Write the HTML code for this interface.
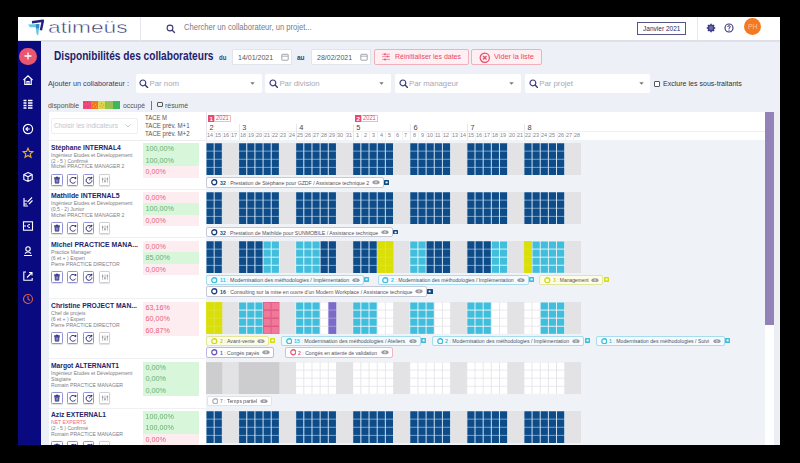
<!DOCTYPE html>
<html><head><meta charset="utf-8"><style>
html,body{margin:0;padding:0;width:800px;height:463px;overflow:hidden;background:#000;font-family:"Liberation Sans", sans-serif;}
</style></head><body>
<div style="position:absolute;left:0;top:0;width:800px;height:463px;filter:blur(0.3px);">
<div style="position:absolute;left:18.00px;top:17.00px;width:762.00px;height:428.00px;background:#eef0f7;"></div>
<div style="position:absolute;left:18.00px;top:17.00px;width:762.00px;height:23.50px;background:#fff;border-bottom:1px solid #dcdfe8;box-sizing:border-box;box-shadow:0 0.8px 1px rgba(0,0,0,0.06);"></div>
<div style="position:absolute;left:139.50px;top:17.00px;width:0.80px;height:23.50px;background:#e6e8ef;"></div>
<div style="position:absolute;left:696.50px;top:17.00px;width:0.80px;height:23.50px;background:#e6e8ef;"></div>
<svg style="position:absolute;left:24.00px;top:17.00px;" width="24" height="21" viewBox="0 0 24 21"><path d="M4 7.6 L15.4 6.9 L15.2 10.6 L14.1 18.8 L12.5 16.8 L11.7 10.2 L6 10.2 Z" fill="#62c8e6"/><path d="M8 5.2 L18.9 3.7 L16.9 13.3" fill="none" stroke="#23237e" stroke-width="2.4" stroke-linejoin="round"/><path d="M11.8 7.2 L15.3 7 L15.1 11.5 L12 11.4 Z" fill="#3b86c4"/></svg>
<div id="t1" style="position:absolute;left:47.50px;top:18.61px;font-size:17px;line-height:17px;color:#3c3c72;font-weight:400;white-space:nowrap;transform:scaleX(1.3354);transform-origin:0 0;-webkit-text-stroke:0.45px #fff;">atimeüs</div>
<svg style="position:absolute;left:165.50px;top:23.50px;" width="10" height="10" viewBox="0 0 10 10"><circle cx="4" cy="4" r="2.9" fill="none" stroke="#3a3a78" stroke-width="1.1"/><path d="M6.2 6.2 L8.5 8.5" stroke="#3a3a78" stroke-width="1.3" stroke-linecap="round"/></svg>
<div id="t2" style="position:absolute;left:184.00px;top:23.18px;font-size:9px;line-height:9px;color:#7b7b85;font-weight:400;white-space:nowrap;transform:scaleX(0.8445);transform-origin:0 0;">Chercher un collaborateur, un projet...</div>
<div style="position:absolute;left:637.00px;top:21.60px;width:49.40px;height:13.00px;border:0.8px solid #555588;box-sizing:border-box;background:#fff;"></div>
<div id="t3" style="position:absolute;left:642.50px;top:24.70px;font-size:7.8px;line-height:7.8px;color:#2e2e66;font-weight:400;white-space:nowrap;transform:scaleX(0.8397);transform-origin:0 0;">Janvier 2021</div>
<svg style="position:absolute;left:705.00px;top:22.00px;" width="12" height="12" viewBox="0 0 12 12"><rect x="5.3" y="1.7" width="1.4" height="1.8" fill="#3a3a80" transform="rotate(0 6 6)"/><rect x="5.3" y="1.7" width="1.4" height="1.8" fill="#3a3a80" transform="rotate(45 6 6)"/><rect x="5.3" y="1.7" width="1.4" height="1.8" fill="#3a3a80" transform="rotate(90 6 6)"/><rect x="5.3" y="1.7" width="1.4" height="1.8" fill="#3a3a80" transform="rotate(135 6 6)"/><rect x="5.3" y="1.7" width="1.4" height="1.8" fill="#3a3a80" transform="rotate(180 6 6)"/><rect x="5.3" y="1.7" width="1.4" height="1.8" fill="#3a3a80" transform="rotate(225 6 6)"/><rect x="5.3" y="1.7" width="1.4" height="1.8" fill="#3a3a80" transform="rotate(270 6 6)"/><rect x="5.3" y="1.7" width="1.4" height="1.8" fill="#3a3a80" transform="rotate(315 6 6)"/><circle cx="6" cy="6" r="2.8" fill="#6a6aa8" stroke="#3a3a80" stroke-width="1.3"/></svg>
<svg style="position:absolute;left:723.20px;top:22.00px;" width="12" height="12" viewBox="0 0 12 12"><circle cx="6" cy="6" r="4.0" fill="none" stroke="#34347a" stroke-width="1.1"/><path d="M4.7 5 Q4.7 3.7 6 3.7 Q7.3 3.7 7.3 4.9 Q7.3 5.7 6 6.1 L6 6.9" fill="none" stroke="#34347a" stroke-width="0.95"/><circle cx="6" cy="8.2" r="0.6" fill="#34347a"/></svg>
<div style="position:absolute;left:743.50px;top:17.90px;width:17.40px;height:17.40px;background:#f47a20;border-radius:50%;"></div>
<div id="t4" style="position:absolute;left:747.60px;top:23.61px;font-size:6.6px;line-height:6.6px;color:#fbc59a;font-weight:400;white-space:nowrap;transform:scaleX(1.0467);transform-origin:0 0;">PH</div>
<div style="position:absolute;left:18.00px;top:40.50px;width:22.50px;height:404.50px;background:#0a0a80;"></div>
<div style="position:absolute;left:19.40px;top:47.80px;width:17.20px;height:17.20px;background:#ea5670;border-radius:50%;"></div>
<svg style="position:absolute;left:23.00px;top:51.40px;" width="10" height="10" viewBox="0 0 10 10"><path d="M5 1.5 V8.5 M1.5 5 H8.5" stroke="#fff" stroke-width="1.3"/></svg>
<svg style="position:absolute;left:21.80px;top:73.70px;" width="12" height="12" viewBox="0 0 12 12"><path d="M1.5 6 L6 1.8 L10.5 6 M2.8 5 V10.5 H9.2 V5 M5 10.5 V7.5 H7 V10.5" fill="none" stroke="#fff" stroke-width="1.2"/></svg>
<svg style="position:absolute;left:21.80px;top:98.00px;" width="12" height="12" viewBox="0 0 12 12"><path d="M1.5 2.5 H4.5 M6 2.5 H10.5 M1.5 5 H4.5 M6 5 H10.5 M1.5 7.5 H4.5 M6 7.5 H10.5 M1.5 10 H4.5 M6 10 H10.5" stroke="#fff" stroke-width="1.3"/></svg>
<svg style="position:absolute;left:21.80px;top:122.80px;" width="12" height="12" viewBox="0 0 12 12"><circle cx="6" cy="6" r="4.6" fill="none" stroke="#fff" stroke-width="1.2"/><path d="M7.8 6 H4.2 M5.8 4.2 L4 6 L5.8 7.8" fill="none" stroke="#fff" stroke-width="1.2"/></svg>
<svg style="position:absolute;left:21.80px;top:146.60px;" width="12" height="12" viewBox="0 0 12 12"><path d="M6 1.2 L7.4 4.4 L10.8 4.7 L8.2 6.9 L9 10.3 L6 8.5 L3 10.3 L3.8 6.9 L1.2 4.7 L4.6 4.4 Z" fill="none" stroke="#e8b030" stroke-width="1.1"/></svg>
<svg style="position:absolute;left:21.80px;top:171.20px;" width="12" height="12" viewBox="0 0 12 12"><path d="M6 1.5 L10.2 3.6 V8.4 L6 10.5 L1.8 8.4 V3.6 Z M1.8 3.6 L6 5.8 L10.2 3.6 M6 5.8 V10.5" fill="none" stroke="#fff" stroke-width="1.1"/></svg>
<svg style="position:absolute;left:21.80px;top:195.70px;" width="12" height="12" viewBox="0 0 12 12"><path d="M2 2 V10 H6 M2 5 H5 M2 8 H5 M5.5 6 L10 1.5 M7 8 L10.5 4.5" fill="none" stroke="#fff" stroke-width="1.1"/></svg>
<svg style="position:absolute;left:21.80px;top:220.30px;" width="12" height="12" viewBox="0 0 12 12"><rect x="1.5" y="1.8" width="9" height="8.4" fill="none" stroke="#fff" stroke-width="1.1"/><path d="M8 4.5 Q5.5 4.5 5.5 6 Q5.5 7.5 8 7.5 M1.5 6 H4" fill="none" stroke="#fff" stroke-width="1"/></svg>
<svg style="position:absolute;left:21.80px;top:244.90px;" width="12" height="12" viewBox="0 0 12 12"><circle cx="6" cy="4" r="2.2" fill="none" stroke="#fff" stroke-width="1.1"/><path d="M2 10.5 H10 M3 8.5 Q6 5.5 9 8.5" fill="none" stroke="#fff" stroke-width="1.1"/></svg>
<svg style="position:absolute;left:21.80px;top:269.50px;" width="12" height="12" viewBox="0 0 12 12"><path d="M4 2 H1.8 V10.2 H10.2 V8 M5 7.5 L9.5 3 M7 2.5 H10 V5.5" fill="none" stroke="#fff" stroke-width="1.1"/></svg>
<svg style="position:absolute;left:21.80px;top:292.80px;" width="12" height="12" viewBox="0 0 12 12"><circle cx="6" cy="6" r="4.5" fill="none" stroke="#d8604a" stroke-width="1.1"/><path d="M6 3 V6 L8 7.5" fill="none" stroke="#d8604a" stroke-width="1.1"/></svg>
<div id="t5" style="position:absolute;left:53.50px;top:49.54px;font-size:12px;line-height:12px;color:#22226c;font-weight:700;white-space:nowrap;transform:scaleX(0.8452);transform-origin:0 0;">Disponibilités des collaborateurs</div>
<div id="t6" style="position:absolute;left:218.60px;top:53.67px;font-size:7px;line-height:7px;color:#3e3e7c;font-weight:700;white-space:nowrap;transform:scaleX(0.8642);transform-origin:0 0;">du</div>
<div style="position:absolute;left:232.00px;top:49.00px;width:60.00px;height:16.00px;background:#fff;border:0.6px solid #e2e4ec;box-sizing:border-box;border-radius:1px;"></div>
<div id="t7" style="position:absolute;left:237.60px;top:54.01px;font-size:7.9px;line-height:7.9px;color:#585858;font-weight:400;white-space:nowrap;transform:scaleX(0.8911);transform-origin:0 0;">14/01/2021</div>
<svg style="position:absolute;left:280.50px;top:53.00px;" width="8" height="8" viewBox="0 0 8 8"><rect x="0.8" y="1.3" width="6.4" height="5.9" fill="none" stroke="#9a9aa6" stroke-width="0.9" rx="0.5"/><path d="M0.8 3.2 H7.2" stroke="#9a9aa6" stroke-width="0.8"/></svg>
<div id="t8" style="position:absolute;left:297.40px;top:53.67px;font-size:7px;line-height:7px;color:#3e3e7c;font-weight:700;white-space:nowrap;transform:scaleX(0.9300);transform-origin:0 0;">au</div>
<div style="position:absolute;left:311.00px;top:49.00px;width:60.00px;height:16.00px;background:#fff;border:0.6px solid #e2e4ec;box-sizing:border-box;border-radius:1px;"></div>
<div id="t9" style="position:absolute;left:316.60px;top:54.01px;font-size:7.9px;line-height:7.9px;color:#585858;font-weight:400;white-space:nowrap;transform:scaleX(0.8911);transform-origin:0 0;">28/02/2021</div>
<svg style="position:absolute;left:359.50px;top:53.00px;" width="8" height="8" viewBox="0 0 8 8"><rect x="0.8" y="1.3" width="6.4" height="5.9" fill="none" stroke="#9a9aa6" stroke-width="0.9" rx="0.5"/><path d="M0.8 3.2 H7.2" stroke="#9a9aa6" stroke-width="0.8"/></svg>
<div style="position:absolute;left:373.80px;top:48.80px;width:95.50px;height:16.20px;background:#fdeff2;border:0.8px solid #f2b0bd;box-sizing:border-box;border-radius:2px;"></div>
<svg style="position:absolute;left:380.50px;top:51.80px;" width="10" height="9" viewBox="0 0 10 9"><path d="M1 2.2 H9 M1 4.6 H9 M1 7.4 H9" stroke="#f07890" stroke-width="0.8"/><circle cx="4" cy="2.2" r="1" fill="#ee5a7a"/><circle cx="6.5" cy="4.6" r="1" fill="#ee5a7a"/><circle cx="4" cy="7.4" r="1" fill="#ee5a7a"/></svg>
<div id="t10" style="position:absolute;left:395.00px;top:53.40px;font-size:7.8px;line-height:7.8px;color:#e84a66;font-weight:400;white-space:nowrap;transform:scaleX(0.8959);transform-origin:0 0;">Réinitialiser les dates</div>
<div style="position:absolute;left:471.00px;top:48.80px;width:70.80px;height:16.20px;background:#fdeff2;border:0.8px solid #f2b0bd;box-sizing:border-box;border-radius:2px;"></div>
<svg style="position:absolute;left:478.50px;top:51.80px;" width="11.5" height="11.5" viewBox="0 0 11.5 11.5"><circle cx="5.75" cy="5.75" r="4.6" fill="none" stroke="#e84a66" stroke-width="1.2"/><path d="M4 4 L7.5 7.5 M7.5 4 L4 7.5" stroke="#e84a66" stroke-width="1.2"/></svg>
<div id="t11" style="position:absolute;left:494.00px;top:53.40px;font-size:7.8px;line-height:7.8px;color:#e84a66;font-weight:400;white-space:nowrap;transform:scaleX(0.9403);transform-origin:0 0;">Vider la liste</div>
<div id="t12" style="position:absolute;left:48.40px;top:79.97px;font-size:7.6px;line-height:7.6px;color:#3a3a70;font-weight:400;white-space:nowrap;transform:scaleX(0.9545);transform-origin:0 0;">Ajouter un collaborateur :</div>
<div style="position:absolute;left:135.50px;top:73.50px;width:126.10px;height:19.00px;background:#fff;border-radius:2px;"></div>
<svg style="position:absolute;left:139.00px;top:78.80px;" width="9.5" height="9.5" viewBox="0 0 9.5 9.5"><circle cx="3.9" cy="3.9" r="2.9" fill="none" stroke="#3a3a78" stroke-width="1.2"/><path d="M6.1 6.1 L8.6 8.6" stroke="#3a3a78" stroke-width="1.4" stroke-linecap="round"/></svg>
<div id="t13" style="position:absolute;left:149.50px;top:80.00px;font-size:7.8px;line-height:7.8px;color:#a8a8b4;font-weight:400;white-space:nowrap;">Par nom</div>
<svg style="position:absolute;left:249.60px;top:81.50px;" width="5" height="3" viewBox="0 0 5 3"><path d="M0.3 0.3 H4.7 L2.5 2.8 Z" fill="#777"/></svg>
<div style="position:absolute;left:265.40px;top:73.50px;width:125.20px;height:19.00px;background:#fff;border-radius:2px;"></div>
<svg style="position:absolute;left:268.90px;top:78.80px;" width="9.5" height="9.5" viewBox="0 0 9.5 9.5"><circle cx="3.9" cy="3.9" r="2.9" fill="none" stroke="#3a3a78" stroke-width="1.2"/><path d="M6.1 6.1 L8.6 8.6" stroke="#3a3a78" stroke-width="1.4" stroke-linecap="round"/></svg>
<div id="t14" style="position:absolute;left:279.40px;top:80.00px;font-size:7.8px;line-height:7.8px;color:#a8a8b4;font-weight:400;white-space:nowrap;">Par division</div>
<svg style="position:absolute;left:378.60px;top:81.50px;" width="5" height="3" viewBox="0 0 5 3"><path d="M0.3 0.3 H4.7 L2.5 2.8 Z" fill="#777"/></svg>
<div style="position:absolute;left:395.00px;top:73.50px;width:125.50px;height:19.00px;background:#fff;border-radius:2px;"></div>
<svg style="position:absolute;left:398.50px;top:78.80px;" width="9.5" height="9.5" viewBox="0 0 9.5 9.5"><circle cx="3.9" cy="3.9" r="2.9" fill="none" stroke="#3a3a78" stroke-width="1.2"/><path d="M6.1 6.1 L8.6 8.6" stroke="#3a3a78" stroke-width="1.4" stroke-linecap="round"/></svg>
<div id="t15" style="position:absolute;left:409.00px;top:80.00px;font-size:7.8px;line-height:7.8px;color:#a8a8b4;font-weight:400;white-space:nowrap;">Par manageur</div>
<svg style="position:absolute;left:508.50px;top:81.50px;" width="5" height="3" viewBox="0 0 5 3"><path d="M0.3 0.3 H4.7 L2.5 2.8 Z" fill="#777"/></svg>
<div style="position:absolute;left:525.20px;top:73.50px;width:125.30px;height:19.00px;background:#fff;border-radius:2px;"></div>
<svg style="position:absolute;left:528.70px;top:78.80px;" width="9.5" height="9.5" viewBox="0 0 9.5 9.5"><circle cx="3.9" cy="3.9" r="2.9" fill="none" stroke="#3a3a78" stroke-width="1.2"/><path d="M6.1 6.1 L8.6 8.6" stroke="#3a3a78" stroke-width="1.4" stroke-linecap="round"/></svg>
<div id="t16" style="position:absolute;left:539.20px;top:80.00px;font-size:7.8px;line-height:7.8px;color:#a8a8b4;font-weight:400;white-space:nowrap;">Par projet</div>
<svg style="position:absolute;left:638.50px;top:81.50px;" width="5" height="3" viewBox="0 0 5 3"><path d="M0.3 0.3 H4.7 L2.5 2.8 Z" fill="#777"/></svg>
<div style="position:absolute;left:654.00px;top:80.50px;width:6.00px;height:6.00px;border:0.8px solid #555;box-sizing:border-box;border-radius:1px;background:#fff;"></div>
<div id="t17" style="position:absolute;left:662.70px;top:80.34px;font-size:7.4px;line-height:7.4px;color:#333;font-weight:400;white-space:nowrap;transform:scaleX(0.9544);transform-origin:0 0;">Exclure les sous-traitants</div>
<div id="t18" style="position:absolute;left:48.40px;top:101.51px;font-size:7.2px;line-height:7.2px;color:#555;font-weight:400;white-space:nowrap;transform:scaleX(0.9637);transform-origin:0 0;">disponible</div>
<div style="position:absolute;left:83.10px;top:101.40px;width:7.42px;height:7.30px;background:#f04878;"></div>
<div style="position:absolute;left:90.52px;top:101.40px;width:7.42px;height:7.30px;background:#f07820;"></div>
<div style="position:absolute;left:97.94px;top:101.40px;width:7.42px;height:7.30px;background:#d8d84e;"></div>
<div style="position:absolute;left:105.36px;top:101.40px;width:7.42px;height:7.30px;background:#96c052;"></div>
<div style="position:absolute;left:112.78px;top:101.40px;width:7.42px;height:7.30px;background:#3fb65e;"></div>
<svg style="position:absolute;left:83.10px;top:101.40px;" width="37.1" height="7.3" viewBox="0 0 37.1 7.3"><g fill="#b83060"><circle cx="1.5" cy="1.5" r="0.5"/><circle cx="4.5" cy="1.5" r="0.5"/><circle cx="2" cy="5.8" r="0.5"/><circle cx="5" cy="5.8" r="0.5"/></g><g fill="#f8b080"><circle cx="9.5" cy="2" r="0.55"/><circle cx="12.5" cy="3.5" r="0.55"/><circle cx="10.5" cy="5.5" r="0.55"/><circle cx="13.5" cy="6" r="0.55"/></g><g fill="#f07840"><circle cx="18.5" cy="2.6" r="0.6"/><circle cx="20.5" cy="4" r="0.6"/><circle cx="17.3" cy="5" r="0.6"/><circle cx="19.3" cy="6" r="0.6"/></g></svg>
<div id="t19" style="position:absolute;left:123.00px;top:101.51px;font-size:7.2px;line-height:7.2px;color:#555;font-weight:400;white-space:nowrap;transform:scaleX(0.9488);transform-origin:0 0;">occupé</div>
<div style="position:absolute;left:151.00px;top:100.50px;width:0.80px;height:9.50px;background:#777;"></div>
<div style="position:absolute;left:157.00px;top:101.80px;width:5.60px;height:5.60px;border:0.8px solid #555;box-sizing:border-box;border-radius:1px;"></div>
<div id="t20" style="position:absolute;left:165.00px;top:101.51px;font-size:7.2px;line-height:7.2px;color:#555;font-weight:400;white-space:nowrap;transform:scaleX(0.9596);transform-origin:0 0;">résumé</div>
<div style="position:absolute;left:48.50px;top:112.00px;width:716.50px;height:333.00px;background:#fff;"></div>
<div style="position:absolute;left:48.50px;top:139.60px;width:716.50px;height:0.70px;background:#ececf0;"></div>
<div style="position:absolute;left:51.00px;top:118.00px;width:86.50px;height:16.00px;border:0.7px solid #efeff2;box-sizing:border-box;border-radius:2px;background:#fff;"></div>
<div id="t21" style="position:absolute;left:53.80px;top:122.17px;font-size:7.6px;line-height:7.6px;color:#c4c4cc;font-weight:400;white-space:nowrap;transform:scaleX(0.8616);transform-origin:0 0;">Choisir les indicateurs</div>
<svg style="position:absolute;left:125.00px;top:124.00px;" width="6" height="4" viewBox="0 0 6 4"><path d="M0.5 0.5 L3 3 L5.5 0.5" fill="none" stroke="#bbb" stroke-width="0.8"/></svg>
<div id="t22" style="position:absolute;left:145.40px;top:114.27px;font-size:7px;line-height:7px;color:#555;font-weight:400;white-space:nowrap;transform:scaleX(0.8482);transform-origin:0 0;">TACE M</div>
<div id="t23" style="position:absolute;left:145.40px;top:122.17px;font-size:7px;line-height:7px;color:#555;font-weight:400;white-space:nowrap;transform:scaleX(0.8761);transform-origin:0 0;">TACE prév. M+1</div>
<div id="t24" style="position:absolute;left:145.40px;top:129.97px;font-size:7px;line-height:7px;color:#555;font-weight:400;white-space:nowrap;transform:scaleX(0.8761);transform-origin:0 0;">TACE prév. M+2</div>
<div style="position:absolute;left:205.90px;top:112.00px;width:0.70px;height:333.00px;background:#e4e4ea;"></div>
<div style="position:absolute;left:206.30px;top:130.80px;width:558.70px;height:0.70px;background:#f0f0f4;"></div>
<div style="position:absolute;left:207.90px;top:114.70px;width:6.40px;height:7.80px;background:#e9496a;"></div>
<div id="t25" style="position:absolute;left:209.50px;top:115.65px;font-size:6.2px;line-height:6.2px;color:#fff;font-weight:700;white-space:nowrap;">1</div>
<div style="position:absolute;left:214.30px;top:114.70px;width:17.20px;height:7.80px;border:0.7px solid #f6b8c4;box-sizing:border-box;background:#fff;"></div>
<div id="t26" style="position:absolute;left:216.40px;top:115.41px;font-size:6.6px;line-height:6.6px;color:#e9496a;font-weight:400;white-space:nowrap;transform:scaleX(0.8724);transform-origin:0 0;">2021</div>
<div style="position:absolute;left:354.84px;top:114.70px;width:6.40px;height:7.80px;background:#e9496a;"></div>
<div id="t27" style="position:absolute;left:356.44px;top:115.65px;font-size:6.2px;line-height:6.2px;color:#fff;font-weight:700;white-space:nowrap;">2</div>
<div style="position:absolute;left:361.24px;top:114.70px;width:17.20px;height:7.80px;border:0.7px solid #f6b8c4;box-sizing:border-box;background:#fff;"></div>
<div id="t28" style="position:absolute;left:363.34px;top:115.41px;font-size:6.6px;line-height:6.6px;color:#e9496a;font-weight:400;white-space:nowrap;transform:scaleX(0.8724);transform-origin:0 0;">2021</div>
<div id="t29" style="position:absolute;left:209.60px;top:124.14px;font-size:7.4px;line-height:7.4px;color:#444;font-weight:400;white-space:nowrap;">2</div>
<div style="position:absolute;left:238.56px;top:124.40px;width:0.70px;height:15.50px;background:#e6e6ec;"></div>
<div id="t30" style="position:absolute;left:242.21px;top:124.14px;font-size:7.4px;line-height:7.4px;color:#444;font-weight:400;white-space:nowrap;">3</div>
<div style="position:absolute;left:295.62px;top:124.40px;width:0.70px;height:15.50px;background:#e6e6ec;"></div>
<div id="t31" style="position:absolute;left:299.27px;top:124.14px;font-size:7.4px;line-height:7.4px;color:#444;font-weight:400;white-space:nowrap;">4</div>
<div style="position:absolute;left:352.69px;top:124.40px;width:0.70px;height:15.50px;background:#e6e6ec;"></div>
<div id="t32" style="position:absolute;left:356.34px;top:124.14px;font-size:7.4px;line-height:7.4px;color:#444;font-weight:400;white-space:nowrap;">5</div>
<div style="position:absolute;left:409.75px;top:124.40px;width:0.70px;height:15.50px;background:#e6e6ec;"></div>
<div id="t33" style="position:absolute;left:413.40px;top:124.14px;font-size:7.4px;line-height:7.4px;color:#444;font-weight:400;white-space:nowrap;">6</div>
<div style="position:absolute;left:466.81px;top:124.40px;width:0.70px;height:15.50px;background:#e6e6ec;"></div>
<div id="t34" style="position:absolute;left:470.46px;top:124.14px;font-size:7.4px;line-height:7.4px;color:#444;font-weight:400;white-space:nowrap;">7</div>
<div style="position:absolute;left:523.88px;top:124.40px;width:0.70px;height:15.50px;background:#e6e6ec;"></div>
<div id="t35" style="position:absolute;left:527.53px;top:124.14px;font-size:7.4px;line-height:7.4px;color:#444;font-weight:400;white-space:nowrap;">8</div>
<div id="t36" style="position:absolute;left:207.00px;top:132.71px;font-size:5.9px;line-height:5.9px;color:#85858d;font-weight:400;white-space:nowrap;transform:scaleX(0.92);transform-origin:0 0;">14</div>
<div id="t37" style="position:absolute;left:215.15px;top:132.71px;font-size:5.9px;line-height:5.9px;color:#85858d;font-weight:400;white-space:nowrap;transform:scaleX(0.92);transform-origin:0 0;">15</div>
<div style="position:absolute;left:214.15px;top:131.50px;width:0.60px;height:8.50px;background:#f3f3f6;"></div>
<div id="t38" style="position:absolute;left:223.30px;top:132.71px;font-size:5.9px;line-height:5.9px;color:#85858d;font-weight:400;white-space:nowrap;transform:scaleX(0.92);transform-origin:0 0;">16</div>
<div style="position:absolute;left:222.30px;top:131.50px;width:0.60px;height:8.50px;background:#f3f3f6;"></div>
<div id="t39" style="position:absolute;left:231.46px;top:132.71px;font-size:5.9px;line-height:5.9px;color:#85858d;font-weight:400;white-space:nowrap;transform:scaleX(0.92);transform-origin:0 0;">17</div>
<div style="position:absolute;left:230.46px;top:131.50px;width:0.60px;height:8.50px;background:#f3f3f6;"></div>
<div id="t40" style="position:absolute;left:239.61px;top:132.71px;font-size:5.9px;line-height:5.9px;color:#85858d;font-weight:400;white-space:nowrap;transform:scaleX(0.92);transform-origin:0 0;">18</div>
<div id="t41" style="position:absolute;left:247.76px;top:132.71px;font-size:5.9px;line-height:5.9px;color:#85858d;font-weight:400;white-space:nowrap;transform:scaleX(0.92);transform-origin:0 0;">19</div>
<div style="position:absolute;left:246.76px;top:131.50px;width:0.60px;height:8.50px;background:#f3f3f6;"></div>
<div id="t42" style="position:absolute;left:255.91px;top:132.71px;font-size:5.9px;line-height:5.9px;color:#85858d;font-weight:400;white-space:nowrap;transform:scaleX(0.92);transform-origin:0 0;">20</div>
<div style="position:absolute;left:254.91px;top:131.50px;width:0.60px;height:8.50px;background:#f3f3f6;"></div>
<div id="t43" style="position:absolute;left:264.06px;top:132.71px;font-size:5.9px;line-height:5.9px;color:#85858d;font-weight:400;white-space:nowrap;transform:scaleX(0.92);transform-origin:0 0;">21</div>
<div style="position:absolute;left:263.06px;top:131.50px;width:0.60px;height:8.50px;background:#f3f3f6;"></div>
<div id="t44" style="position:absolute;left:272.22px;top:132.71px;font-size:5.9px;line-height:5.9px;color:#85858d;font-weight:400;white-space:nowrap;transform:scaleX(0.92);transform-origin:0 0;">22</div>
<div style="position:absolute;left:271.22px;top:131.50px;width:0.60px;height:8.50px;background:#f3f3f6;"></div>
<div id="t45" style="position:absolute;left:280.37px;top:132.71px;font-size:5.9px;line-height:5.9px;color:#85858d;font-weight:400;white-space:nowrap;transform:scaleX(0.92);transform-origin:0 0;">23</div>
<div style="position:absolute;left:279.37px;top:131.50px;width:0.60px;height:8.50px;background:#f3f3f6;"></div>
<div id="t46" style="position:absolute;left:288.52px;top:132.71px;font-size:5.9px;line-height:5.9px;color:#85858d;font-weight:400;white-space:nowrap;transform:scaleX(0.92);transform-origin:0 0;">24</div>
<div style="position:absolute;left:287.52px;top:131.50px;width:0.60px;height:8.50px;background:#f3f3f6;"></div>
<div id="t47" style="position:absolute;left:296.67px;top:132.71px;font-size:5.9px;line-height:5.9px;color:#85858d;font-weight:400;white-space:nowrap;transform:scaleX(0.92);transform-origin:0 0;">25</div>
<div id="t48" style="position:absolute;left:304.82px;top:132.71px;font-size:5.9px;line-height:5.9px;color:#85858d;font-weight:400;white-space:nowrap;transform:scaleX(0.92);transform-origin:0 0;">26</div>
<div style="position:absolute;left:303.82px;top:131.50px;width:0.60px;height:8.50px;background:#f3f3f6;"></div>
<div id="t49" style="position:absolute;left:312.98px;top:132.71px;font-size:5.9px;line-height:5.9px;color:#85858d;font-weight:400;white-space:nowrap;transform:scaleX(0.92);transform-origin:0 0;">27</div>
<div style="position:absolute;left:311.98px;top:131.50px;width:0.60px;height:8.50px;background:#f3f3f6;"></div>
<div id="t50" style="position:absolute;left:321.13px;top:132.71px;font-size:5.9px;line-height:5.9px;color:#85858d;font-weight:400;white-space:nowrap;transform:scaleX(0.92);transform-origin:0 0;">28</div>
<div style="position:absolute;left:320.13px;top:131.50px;width:0.60px;height:8.50px;background:#f3f3f6;"></div>
<div id="t51" style="position:absolute;left:329.28px;top:132.71px;font-size:5.9px;line-height:5.9px;color:#85858d;font-weight:400;white-space:nowrap;transform:scaleX(0.92);transform-origin:0 0;">29</div>
<div style="position:absolute;left:328.28px;top:131.50px;width:0.60px;height:8.50px;background:#f3f3f6;"></div>
<div id="t52" style="position:absolute;left:337.43px;top:132.71px;font-size:5.9px;line-height:5.9px;color:#85858d;font-weight:400;white-space:nowrap;transform:scaleX(0.92);transform-origin:0 0;">30</div>
<div style="position:absolute;left:336.43px;top:131.50px;width:0.60px;height:8.50px;background:#f3f3f6;"></div>
<div id="t53" style="position:absolute;left:345.58px;top:132.71px;font-size:5.9px;line-height:5.9px;color:#85858d;font-weight:400;white-space:nowrap;transform:scaleX(0.92);transform-origin:0 0;">31</div>
<div style="position:absolute;left:344.58px;top:131.50px;width:0.60px;height:8.50px;background:#f3f3f6;"></div>
<div id="t54" style="position:absolute;left:355.54px;top:132.71px;font-size:5.9px;line-height:5.9px;color:#85858d;font-weight:400;white-space:nowrap;transform:scaleX(0.92);transform-origin:0 0;">1</div>
<div id="t55" style="position:absolute;left:363.69px;top:132.71px;font-size:5.9px;line-height:5.9px;color:#85858d;font-weight:400;white-space:nowrap;transform:scaleX(0.92);transform-origin:0 0;">2</div>
<div style="position:absolute;left:360.89px;top:131.50px;width:0.60px;height:8.50px;background:#f3f3f6;"></div>
<div id="t56" style="position:absolute;left:371.84px;top:132.71px;font-size:5.9px;line-height:5.9px;color:#85858d;font-weight:400;white-space:nowrap;transform:scaleX(0.92);transform-origin:0 0;">3</div>
<div style="position:absolute;left:369.04px;top:131.50px;width:0.60px;height:8.50px;background:#f3f3f6;"></div>
<div id="t57" style="position:absolute;left:379.99px;top:132.71px;font-size:5.9px;line-height:5.9px;color:#85858d;font-weight:400;white-space:nowrap;transform:scaleX(0.92);transform-origin:0 0;">4</div>
<div style="position:absolute;left:377.19px;top:131.50px;width:0.60px;height:8.50px;background:#f3f3f6;"></div>
<div id="t58" style="position:absolute;left:388.14px;top:132.71px;font-size:5.9px;line-height:5.9px;color:#85858d;font-weight:400;white-space:nowrap;transform:scaleX(0.92);transform-origin:0 0;">5</div>
<div style="position:absolute;left:385.34px;top:131.50px;width:0.60px;height:8.50px;background:#f3f3f6;"></div>
<div id="t59" style="position:absolute;left:396.30px;top:132.71px;font-size:5.9px;line-height:5.9px;color:#85858d;font-weight:400;white-space:nowrap;transform:scaleX(0.92);transform-origin:0 0;">6</div>
<div style="position:absolute;left:393.50px;top:131.50px;width:0.60px;height:8.50px;background:#f3f3f6;"></div>
<div id="t60" style="position:absolute;left:404.45px;top:132.71px;font-size:5.9px;line-height:5.9px;color:#85858d;font-weight:400;white-space:nowrap;transform:scaleX(0.92);transform-origin:0 0;">7</div>
<div style="position:absolute;left:401.65px;top:131.50px;width:0.60px;height:8.50px;background:#f3f3f6;"></div>
<div id="t61" style="position:absolute;left:412.60px;top:132.71px;font-size:5.9px;line-height:5.9px;color:#85858d;font-weight:400;white-space:nowrap;transform:scaleX(0.92);transform-origin:0 0;">8</div>
<div id="t62" style="position:absolute;left:420.75px;top:132.71px;font-size:5.9px;line-height:5.9px;color:#85858d;font-weight:400;white-space:nowrap;transform:scaleX(0.92);transform-origin:0 0;">9</div>
<div style="position:absolute;left:417.95px;top:131.50px;width:0.60px;height:8.50px;background:#f3f3f6;"></div>
<div id="t63" style="position:absolute;left:427.10px;top:132.71px;font-size:5.9px;line-height:5.9px;color:#85858d;font-weight:400;white-space:nowrap;transform:scaleX(0.92);transform-origin:0 0;">10</div>
<div style="position:absolute;left:426.10px;top:131.50px;width:0.60px;height:8.50px;background:#f3f3f6;"></div>
<div id="t64" style="position:absolute;left:435.26px;top:132.71px;font-size:5.9px;line-height:5.9px;color:#85858d;font-weight:400;white-space:nowrap;transform:scaleX(0.92);transform-origin:0 0;">11</div>
<div style="position:absolute;left:434.26px;top:131.50px;width:0.60px;height:8.50px;background:#f3f3f6;"></div>
<div id="t65" style="position:absolute;left:443.41px;top:132.71px;font-size:5.9px;line-height:5.9px;color:#85858d;font-weight:400;white-space:nowrap;transform:scaleX(0.92);transform-origin:0 0;">12</div>
<div style="position:absolute;left:442.41px;top:131.50px;width:0.60px;height:8.50px;background:#f3f3f6;"></div>
<div id="t66" style="position:absolute;left:451.56px;top:132.71px;font-size:5.9px;line-height:5.9px;color:#85858d;font-weight:400;white-space:nowrap;transform:scaleX(0.92);transform-origin:0 0;">13</div>
<div style="position:absolute;left:450.56px;top:131.50px;width:0.60px;height:8.50px;background:#f3f3f6;"></div>
<div id="t67" style="position:absolute;left:459.71px;top:132.71px;font-size:5.9px;line-height:5.9px;color:#85858d;font-weight:400;white-space:nowrap;transform:scaleX(0.92);transform-origin:0 0;">14</div>
<div style="position:absolute;left:458.71px;top:131.50px;width:0.60px;height:8.50px;background:#f3f3f6;"></div>
<div id="t68" style="position:absolute;left:467.86px;top:132.71px;font-size:5.9px;line-height:5.9px;color:#85858d;font-weight:400;white-space:nowrap;transform:scaleX(0.92);transform-origin:0 0;">15</div>
<div id="t69" style="position:absolute;left:476.02px;top:132.71px;font-size:5.9px;line-height:5.9px;color:#85858d;font-weight:400;white-space:nowrap;transform:scaleX(0.92);transform-origin:0 0;">16</div>
<div style="position:absolute;left:475.02px;top:131.50px;width:0.60px;height:8.50px;background:#f3f3f6;"></div>
<div id="t70" style="position:absolute;left:484.17px;top:132.71px;font-size:5.9px;line-height:5.9px;color:#85858d;font-weight:400;white-space:nowrap;transform:scaleX(0.92);transform-origin:0 0;">17</div>
<div style="position:absolute;left:483.17px;top:131.50px;width:0.60px;height:8.50px;background:#f3f3f6;"></div>
<div id="t71" style="position:absolute;left:492.32px;top:132.71px;font-size:5.9px;line-height:5.9px;color:#85858d;font-weight:400;white-space:nowrap;transform:scaleX(0.92);transform-origin:0 0;">18</div>
<div style="position:absolute;left:491.32px;top:131.50px;width:0.60px;height:8.50px;background:#f3f3f6;"></div>
<div id="t72" style="position:absolute;left:500.47px;top:132.71px;font-size:5.9px;line-height:5.9px;color:#85858d;font-weight:400;white-space:nowrap;transform:scaleX(0.92);transform-origin:0 0;">19</div>
<div style="position:absolute;left:499.47px;top:131.50px;width:0.60px;height:8.50px;background:#f3f3f6;"></div>
<div id="t73" style="position:absolute;left:508.62px;top:132.71px;font-size:5.9px;line-height:5.9px;color:#85858d;font-weight:400;white-space:nowrap;transform:scaleX(0.92);transform-origin:0 0;">20</div>
<div style="position:absolute;left:507.62px;top:131.50px;width:0.60px;height:8.50px;background:#f3f3f6;"></div>
<div id="t74" style="position:absolute;left:516.78px;top:132.71px;font-size:5.9px;line-height:5.9px;color:#85858d;font-weight:400;white-space:nowrap;transform:scaleX(0.92);transform-origin:0 0;">21</div>
<div style="position:absolute;left:515.78px;top:131.50px;width:0.60px;height:8.50px;background:#f3f3f6;"></div>
<div id="t75" style="position:absolute;left:524.93px;top:132.71px;font-size:5.9px;line-height:5.9px;color:#85858d;font-weight:400;white-space:nowrap;transform:scaleX(0.92);transform-origin:0 0;">22</div>
<div id="t76" style="position:absolute;left:533.08px;top:132.71px;font-size:5.9px;line-height:5.9px;color:#85858d;font-weight:400;white-space:nowrap;transform:scaleX(0.92);transform-origin:0 0;">23</div>
<div style="position:absolute;left:532.08px;top:131.50px;width:0.60px;height:8.50px;background:#f3f3f6;"></div>
<div id="t77" style="position:absolute;left:541.23px;top:132.71px;font-size:5.9px;line-height:5.9px;color:#85858d;font-weight:400;white-space:nowrap;transform:scaleX(0.92);transform-origin:0 0;">24</div>
<div style="position:absolute;left:540.23px;top:131.50px;width:0.60px;height:8.50px;background:#f3f3f6;"></div>
<div id="t78" style="position:absolute;left:549.38px;top:132.71px;font-size:5.9px;line-height:5.9px;color:#85858d;font-weight:400;white-space:nowrap;transform:scaleX(0.92);transform-origin:0 0;">25</div>
<div style="position:absolute;left:548.38px;top:131.50px;width:0.60px;height:8.50px;background:#f3f3f6;"></div>
<div id="t79" style="position:absolute;left:557.54px;top:132.71px;font-size:5.9px;line-height:5.9px;color:#85858d;font-weight:400;white-space:nowrap;transform:scaleX(0.92);transform-origin:0 0;">26</div>
<div style="position:absolute;left:556.54px;top:131.50px;width:0.60px;height:8.50px;background:#f3f3f6;"></div>
<div id="t80" style="position:absolute;left:565.69px;top:132.71px;font-size:5.9px;line-height:5.9px;color:#85858d;font-weight:400;white-space:nowrap;transform:scaleX(0.92);transform-origin:0 0;">27</div>
<div style="position:absolute;left:564.69px;top:131.50px;width:0.60px;height:8.50px;background:#f3f3f6;"></div>
<div id="t81" style="position:absolute;left:573.84px;top:132.71px;font-size:5.9px;line-height:5.9px;color:#85858d;font-weight:400;white-space:nowrap;transform:scaleX(0.92);transform-origin:0 0;">28</div>
<div style="position:absolute;left:572.84px;top:131.50px;width:0.60px;height:8.50px;background:#f3f3f6;"></div>
<div style="position:absolute;left:206.30px;top:140.30px;width:558.70px;height:304.70px;background:#eff2f7;"></div>
<div id="t82" style="position:absolute;left:51.00px;top:143.71px;font-size:7.9px;line-height:7.9px;color:#25256a;font-weight:700;white-space:nowrap;transform:scaleX(0.8512);transform-origin:0 0;">Stéphane INTERNAL4</div>
<div id="t83" style="position:absolute;left:51.00px;top:151.74px;font-size:6.1px;line-height:6.1px;color:#7c7c84;font-weight:400;white-space:nowrap;transform:scaleX(0.837);transform-origin:0 0;">Ingénieur Etudes et Développement</div>
<div id="t84" style="position:absolute;left:51.00px;top:157.64px;font-size:6.1px;line-height:6.1px;color:#7c7c84;font-weight:400;white-space:nowrap;transform:scaleX(0.837);transform-origin:0 0;">(2 - 5 ) Confirmé</div>
<div id="t85" style="position:absolute;left:51.00px;top:163.44px;font-size:6.1px;line-height:6.1px;color:#7c7c84;font-weight:400;white-space:nowrap;transform:scaleX(0.837);transform-origin:0 0;">Michel PRACTICE MANAGER 2</div>
<div style="position:absolute;left:142.80px;top:143.00px;width:56.20px;height:11.50px;background:#d8f6da;"></div>
<div id="t86" style="position:absolute;left:145.50px;top:145.11px;font-size:7.2px;line-height:7.2px;color:#6aae74;font-weight:400;white-space:nowrap;">100,00%</div>
<div style="position:absolute;left:142.80px;top:154.50px;width:56.20px;height:11.50px;background:#d8f6da;"></div>
<div id="t87" style="position:absolute;left:145.50px;top:156.61px;font-size:7.2px;line-height:7.2px;color:#6aae74;font-weight:400;white-space:nowrap;">100,00%</div>
<div style="position:absolute;left:142.80px;top:166.00px;width:56.20px;height:11.50px;background:#fdedf0;"></div>
<div id="t88" style="position:absolute;left:145.50px;top:168.11px;font-size:7.2px;line-height:7.2px;color:#e8607a;font-weight:400;white-space:nowrap;">0,00%</div>
<div style="position:absolute;left:50.80px;top:173.70px;width:11.80px;height:12.20px;border:0.8px solid #9494d4;box-sizing:border-box;border-radius:1.5px;box-shadow:0 0.6px 1px rgba(0,0,0,0.12);background:#fff;"></div>
<div style="position:absolute;left:66.70px;top:173.70px;width:11.80px;height:12.20px;border:0.8px solid #9494d4;box-sizing:border-box;border-radius:1.5px;box-shadow:0 0.6px 1px rgba(0,0,0,0.12);background:#fff;"></div>
<div style="position:absolute;left:82.60px;top:173.70px;width:11.80px;height:12.20px;border:0.8px solid #9494d4;box-sizing:border-box;border-radius:1.5px;box-shadow:0 0.6px 1px rgba(0,0,0,0.12);background:#fff;"></div>
<div style="position:absolute;left:98.50px;top:173.70px;width:11.80px;height:12.20px;border:0.8px solid #cfcfd4;box-sizing:border-box;border-radius:1.5px;box-shadow:0 0.6px 1px rgba(0,0,0,0.12);background:#fff;"></div>
<svg style="position:absolute;left:50.80px;top:173.80px;" width="12" height="12" viewBox="0 0 12 12"><path d="M3.4 3.6 H8.6 V4.7 H3.4 Z M5 3.6 V2.9 H7 V3.6" fill="#3a3a86" stroke="#3a3a86" stroke-width="0.5"/><path d="M3.9 5.2 H8.1 L7.8 9.2 H4.2 Z" fill="#5a5aa0" stroke="#2c2c78" stroke-width="0.6"/><path d="M4.8 6.4 H7.2 M4.8 7.8 H7.2" stroke="#c8c8e8" stroke-width="0.5"/></svg>
<svg style="position:absolute;left:66.70px;top:173.80px;" width="12" height="12" viewBox="0 0 12 12"><path d="M8.3 4.6 A2.9 2.9 0 1 0 8.6 7.6" fill="none" stroke="#2c2c78" stroke-width="1.0"/><circle cx="8.5" cy="4.0" r="0.95" fill="#2c2c78"/></svg>
<svg style="position:absolute;left:82.60px;top:173.80px;" width="12" height="12" viewBox="0 0 12 12"><path d="M8.4 4.8 A2.9 2.9 0 1 0 8.9 6.4" fill="none" stroke="#2c2c78" stroke-width="1.0"/><path d="M6 6.3 L8 4.4" stroke="#2c2c78" stroke-width="0.9"/><circle cx="8.5" cy="3.8" r="0.95" fill="#2c2c78"/></svg>
<svg style="position:absolute;left:98.50px;top:173.80px;" width="12" height="12" viewBox="0 0 12 12"><path d="M3.6 3.4 V8.8 M6 3.4 V8.8 M8.4 3.4 V8.8" stroke="#a0a0a8" stroke-width="0.7"/><path d="M2.9 5.2 H4.3 M5.3 7.2 H6.7 M7.7 4.8 H9.1" stroke="#8a8a92" stroke-width="1.2"/></svg>
<div style="position:absolute;left:48.50px;top:189.10px;width:157.80px;height:0.70px;background:#eff0f4;"></div>
<svg style="position:absolute;left:206.300px;top:143.000px" width="374.992" height="32.3" viewBox="0 0 374.992 32.3"><rect x="0" y="0" width="374.992" height="32.3" fill="#e3e2e4"/><rect x="0.000" y="0" width="8.152" height="32.3" fill="#d0e2f4"/><rect x="0.500" y="0.280" width="7.152" height="7.515" fill="#0d4c88"/><rect x="0.500" y="8.355" width="7.152" height="7.515" fill="#0d4c88"/><rect x="0.500" y="16.430" width="7.152" height="7.515" fill="#0d4c88"/><rect x="0.500" y="24.505" width="7.152" height="7.515" fill="#0d4c88"/><rect x="8.152" y="0" width="8.152" height="32.3" fill="#d0e2f4"/><rect x="8.652" y="0.280" width="7.152" height="7.515" fill="#0d4c88"/><rect x="8.652" y="8.355" width="7.152" height="7.515" fill="#0d4c88"/><rect x="8.652" y="16.430" width="7.152" height="7.515" fill="#0d4c88"/><rect x="8.652" y="24.505" width="7.152" height="7.515" fill="#0d4c88"/><rect x="32.608" y="0" width="8.152" height="32.3" fill="#d0e2f4"/><rect x="33.108" y="0.280" width="7.152" height="7.515" fill="#0d4c88"/><rect x="33.108" y="8.355" width="7.152" height="7.515" fill="#0d4c88"/><rect x="33.108" y="16.430" width="7.152" height="7.515" fill="#0d4c88"/><rect x="33.108" y="24.505" width="7.152" height="7.515" fill="#0d4c88"/><rect x="40.760" y="0" width="8.152" height="32.3" fill="#d0e2f4"/><rect x="41.260" y="0.280" width="7.152" height="7.515" fill="#0d4c88"/><rect x="41.260" y="8.355" width="7.152" height="7.515" fill="#0d4c88"/><rect x="41.260" y="16.430" width="7.152" height="7.515" fill="#0d4c88"/><rect x="41.260" y="24.505" width="7.152" height="7.515" fill="#0d4c88"/><rect x="48.912" y="0" width="8.152" height="32.3" fill="#d0e2f4"/><rect x="49.412" y="0.280" width="7.152" height="7.515" fill="#0d4c88"/><rect x="49.412" y="8.355" width="7.152" height="7.515" fill="#0d4c88"/><rect x="49.412" y="16.430" width="7.152" height="7.515" fill="#0d4c88"/><rect x="49.412" y="24.505" width="7.152" height="7.515" fill="#0d4c88"/><rect x="57.064" y="0" width="8.152" height="32.3" fill="#d0e2f4"/><rect x="57.564" y="0.280" width="7.152" height="7.515" fill="#0d4c88"/><rect x="57.564" y="8.355" width="7.152" height="7.515" fill="#0d4c88"/><rect x="57.564" y="16.430" width="7.152" height="7.515" fill="#0d4c88"/><rect x="57.564" y="24.505" width="7.152" height="7.515" fill="#0d4c88"/><rect x="65.216" y="0" width="8.152" height="32.3" fill="#d0e2f4"/><rect x="65.716" y="0.280" width="7.152" height="7.515" fill="#0d4c88"/><rect x="65.716" y="8.355" width="7.152" height="7.515" fill="#0d4c88"/><rect x="65.716" y="16.430" width="7.152" height="7.515" fill="#0d4c88"/><rect x="65.716" y="24.505" width="7.152" height="7.515" fill="#0d4c88"/><rect x="89.672" y="0" width="8.152" height="32.3" fill="#d0e2f4"/><rect x="90.172" y="0.280" width="7.152" height="7.515" fill="#0d4c88"/><rect x="90.172" y="8.355" width="7.152" height="7.515" fill="#0d4c88"/><rect x="90.172" y="16.430" width="7.152" height="7.515" fill="#0d4c88"/><rect x="90.172" y="24.505" width="7.152" height="7.515" fill="#0d4c88"/><rect x="97.824" y="0" width="8.152" height="32.3" fill="#d0e2f4"/><rect x="98.324" y="0.280" width="7.152" height="7.515" fill="#0d4c88"/><rect x="98.324" y="8.355" width="7.152" height="7.515" fill="#0d4c88"/><rect x="98.324" y="16.430" width="7.152" height="7.515" fill="#0d4c88"/><rect x="98.324" y="24.505" width="7.152" height="7.515" fill="#0d4c88"/><rect x="105.976" y="0" width="8.152" height="32.3" fill="#d0e2f4"/><rect x="106.476" y="0.280" width="7.152" height="7.515" fill="#0d4c88"/><rect x="106.476" y="8.355" width="7.152" height="7.515" fill="#0d4c88"/><rect x="106.476" y="16.430" width="7.152" height="7.515" fill="#0d4c88"/><rect x="106.476" y="24.505" width="7.152" height="7.515" fill="#0d4c88"/><rect x="114.128" y="0" width="8.152" height="32.3" fill="#d0e2f4"/><rect x="114.628" y="0.280" width="7.152" height="7.515" fill="#0d4c88"/><rect x="114.628" y="8.355" width="7.152" height="7.515" fill="#0d4c88"/><rect x="114.628" y="16.430" width="7.152" height="7.515" fill="#0d4c88"/><rect x="114.628" y="24.505" width="7.152" height="7.515" fill="#0d4c88"/><rect x="122.280" y="0" width="8.152" height="32.3" fill="#d0e2f4"/><rect x="122.780" y="0.280" width="7.152" height="7.515" fill="#0d4c88"/><rect x="122.780" y="8.355" width="7.152" height="7.515" fill="#0d4c88"/><rect x="122.780" y="16.430" width="7.152" height="7.515" fill="#0d4c88"/><rect x="122.780" y="24.505" width="7.152" height="7.515" fill="#0d4c88"/><rect x="146.736" y="0" width="8.152" height="32.3" fill="#d0e2f4"/><rect x="147.236" y="0.280" width="7.152" height="7.515" fill="#0d4c88"/><rect x="147.236" y="8.355" width="7.152" height="7.515" fill="#0d4c88"/><rect x="147.236" y="16.430" width="7.152" height="7.515" fill="#0d4c88"/><rect x="147.236" y="24.505" width="7.152" height="7.515" fill="#0d4c88"/><rect x="154.888" y="0" width="8.152" height="32.3" fill="#d0e2f4"/><rect x="155.388" y="0.280" width="7.152" height="7.515" fill="#0d4c88"/><rect x="155.388" y="8.355" width="7.152" height="7.515" fill="#0d4c88"/><rect x="155.388" y="16.430" width="7.152" height="7.515" fill="#0d4c88"/><rect x="155.388" y="24.505" width="7.152" height="7.515" fill="#0d4c88"/><rect x="163.040" y="0" width="8.152" height="32.3" fill="#d0e2f4"/><rect x="163.540" y="0.280" width="7.152" height="7.515" fill="#0d4c88"/><rect x="163.540" y="8.355" width="7.152" height="7.515" fill="#0d4c88"/><rect x="163.540" y="16.430" width="7.152" height="7.515" fill="#0d4c88"/><rect x="163.540" y="24.505" width="7.152" height="7.515" fill="#0d4c88"/><rect x="171.192" y="0" width="8.152" height="32.3" fill="#d0e2f4"/><rect x="171.692" y="0.280" width="7.152" height="7.515" fill="#0d4c88"/><rect x="171.692" y="8.355" width="7.152" height="7.515" fill="#0d4c88"/><rect x="171.692" y="16.430" width="7.152" height="7.515" fill="#0d4c88"/><rect x="171.692" y="24.505" width="7.152" height="7.515" fill="#0d4c88"/><rect x="179.344" y="0" width="8.152" height="32.3" fill="#d0e2f4"/><rect x="179.844" y="0.280" width="7.152" height="7.515" fill="#0d4c88"/><rect x="179.844" y="8.355" width="7.152" height="7.515" fill="#0d4c88"/><rect x="179.844" y="16.430" width="7.152" height="7.515" fill="#0d4c88"/><rect x="179.844" y="24.505" width="7.152" height="7.515" fill="#0d4c88"/><rect x="203.800" y="0" width="8.152" height="32.3" fill="#d0e2f4"/><rect x="204.300" y="0.280" width="7.152" height="7.515" fill="#0d4c88"/><rect x="204.300" y="8.355" width="7.152" height="7.515" fill="#0d4c88"/><rect x="204.300" y="16.430" width="7.152" height="7.515" fill="#0d4c88"/><rect x="204.300" y="24.505" width="7.152" height="7.515" fill="#0d4c88"/><rect x="211.952" y="0" width="8.152" height="32.3" fill="#d0e2f4"/><rect x="212.452" y="0.280" width="7.152" height="7.515" fill="#0d4c88"/><rect x="212.452" y="8.355" width="7.152" height="7.515" fill="#0d4c88"/><rect x="212.452" y="16.430" width="7.152" height="7.515" fill="#0d4c88"/><rect x="212.452" y="24.505" width="7.152" height="7.515" fill="#0d4c88"/><rect x="220.104" y="0" width="8.152" height="32.3" fill="#d0e2f4"/><rect x="220.604" y="0.280" width="7.152" height="7.515" fill="#0d4c88"/><rect x="220.604" y="8.355" width="7.152" height="7.515" fill="#0d4c88"/><rect x="220.604" y="16.430" width="7.152" height="7.515" fill="#0d4c88"/><rect x="220.604" y="24.505" width="7.152" height="7.515" fill="#0d4c88"/><rect x="228.256" y="0" width="8.152" height="32.3" fill="#d0e2f4"/><rect x="228.756" y="0.280" width="7.152" height="7.515" fill="#0d4c88"/><rect x="228.756" y="8.355" width="7.152" height="7.515" fill="#0d4c88"/><rect x="228.756" y="16.430" width="7.152" height="7.515" fill="#0d4c88"/><rect x="228.756" y="24.505" width="7.152" height="7.515" fill="#0d4c88"/><rect x="236.408" y="0" width="8.152" height="32.3" fill="#d0e2f4"/><rect x="236.908" y="0.280" width="7.152" height="7.515" fill="#0d4c88"/><rect x="236.908" y="8.355" width="7.152" height="7.515" fill="#0d4c88"/><rect x="236.908" y="16.430" width="7.152" height="7.515" fill="#0d4c88"/><rect x="236.908" y="24.505" width="7.152" height="7.515" fill="#0d4c88"/><rect x="260.864" y="0" width="8.152" height="32.3" fill="#d0e2f4"/><rect x="261.364" y="0.280" width="7.152" height="7.515" fill="#0d4c88"/><rect x="261.364" y="8.355" width="7.152" height="7.515" fill="#0d4c88"/><rect x="261.364" y="16.430" width="7.152" height="7.515" fill="#0d4c88"/><rect x="261.364" y="24.505" width="7.152" height="7.515" fill="#0d4c88"/><rect x="269.016" y="0" width="8.152" height="32.3" fill="#d0e2f4"/><rect x="269.516" y="0.280" width="7.152" height="7.515" fill="#0d4c88"/><rect x="269.516" y="8.355" width="7.152" height="7.515" fill="#0d4c88"/><rect x="269.516" y="16.430" width="7.152" height="7.515" fill="#0d4c88"/><rect x="269.516" y="24.505" width="7.152" height="7.515" fill="#0d4c88"/><rect x="277.168" y="0" width="8.152" height="32.3" fill="#d0e2f4"/><rect x="277.668" y="0.280" width="7.152" height="7.515" fill="#0d4c88"/><rect x="277.668" y="8.355" width="7.152" height="7.515" fill="#0d4c88"/><rect x="277.668" y="16.430" width="7.152" height="7.515" fill="#0d4c88"/><rect x="277.668" y="24.505" width="7.152" height="7.515" fill="#0d4c88"/><rect x="285.320" y="0" width="8.152" height="32.3" fill="#d0e2f4"/><rect x="285.820" y="0.280" width="7.152" height="7.515" fill="#0d4c88"/><rect x="285.820" y="8.355" width="7.152" height="7.515" fill="#0d4c88"/><rect x="285.820" y="16.430" width="7.152" height="7.515" fill="#0d4c88"/><rect x="285.820" y="24.505" width="7.152" height="7.515" fill="#0d4c88"/><rect x="293.472" y="0" width="8.152" height="32.3" fill="#d0e2f4"/><rect x="293.972" y="0.280" width="7.152" height="7.515" fill="#0d4c88"/><rect x="293.972" y="8.355" width="7.152" height="7.515" fill="#0d4c88"/><rect x="293.972" y="16.430" width="7.152" height="7.515" fill="#0d4c88"/><rect x="293.972" y="24.505" width="7.152" height="7.515" fill="#0d4c88"/><rect x="317.928" y="0" width="8.152" height="32.3" fill="#d0e2f4"/><rect x="318.428" y="0.280" width="7.152" height="7.515" fill="#0d4c88"/><rect x="318.428" y="8.355" width="7.152" height="7.515" fill="#0d4c88"/><rect x="318.428" y="16.430" width="7.152" height="7.515" fill="#0d4c88"/><rect x="318.428" y="24.505" width="7.152" height="7.515" fill="#0d4c88"/><rect x="326.080" y="0" width="8.152" height="32.3" fill="#d0e2f4"/><rect x="326.580" y="0.280" width="7.152" height="7.515" fill="#0d4c88"/><rect x="326.580" y="8.355" width="7.152" height="7.515" fill="#0d4c88"/><rect x="326.580" y="16.430" width="7.152" height="7.515" fill="#0d4c88"/><rect x="326.580" y="24.505" width="7.152" height="7.515" fill="#0d4c88"/><rect x="334.232" y="0" width="8.152" height="32.3" fill="#d0e2f4"/><rect x="334.732" y="0.280" width="7.152" height="7.515" fill="#0d4c88"/><rect x="334.732" y="8.355" width="7.152" height="7.515" fill="#0d4c88"/><rect x="334.732" y="16.430" width="7.152" height="7.515" fill="#0d4c88"/><rect x="334.732" y="24.505" width="7.152" height="7.515" fill="#0d4c88"/><rect x="342.384" y="0" width="8.152" height="32.3" fill="#d0e2f4"/><rect x="342.884" y="0.280" width="7.152" height="7.515" fill="#0d4c88"/><rect x="342.884" y="8.355" width="7.152" height="7.515" fill="#0d4c88"/><rect x="342.884" y="16.430" width="7.152" height="7.515" fill="#0d4c88"/><rect x="342.884" y="24.505" width="7.152" height="7.515" fill="#0d4c88"/><rect x="350.536" y="0" width="8.152" height="32.3" fill="#d0e2f4"/><rect x="351.036" y="0.280" width="7.152" height="7.515" fill="#0d4c88"/><rect x="351.036" y="8.355" width="7.152" height="7.515" fill="#0d4c88"/><rect x="351.036" y="16.430" width="7.152" height="7.515" fill="#0d4c88"/><rect x="351.036" y="24.505" width="7.152" height="7.515" fill="#0d4c88"/></svg>
<div id="t89" style="position:absolute;left:51.00px;top:192.21px;font-size:7.9px;line-height:7.9px;color:#25256a;font-weight:700;white-space:nowrap;transform:scaleX(0.8728);transform-origin:0 0;">Mathilde INTERNAL5</div>
<div id="t90" style="position:absolute;left:51.00px;top:200.24px;font-size:6.1px;line-height:6.1px;color:#7c7c84;font-weight:400;white-space:nowrap;transform:scaleX(0.837);transform-origin:0 0;">Ingénieur Etudes et Développement</div>
<div id="t91" style="position:absolute;left:51.00px;top:206.14px;font-size:6.1px;line-height:6.1px;color:#7c7c84;font-weight:400;white-space:nowrap;transform:scaleX(0.837);transform-origin:0 0;">(0,5 - 2) Junior</div>
<div id="t92" style="position:absolute;left:51.00px;top:211.94px;font-size:6.1px;line-height:6.1px;color:#7c7c84;font-weight:400;white-space:nowrap;transform:scaleX(0.837);transform-origin:0 0;">Michel PRACTICE MANAGER 2</div>
<div style="position:absolute;left:142.80px;top:191.50px;width:56.20px;height:11.50px;background:#fdedf0;"></div>
<div id="t93" style="position:absolute;left:145.50px;top:193.61px;font-size:7.2px;line-height:7.2px;color:#e8607a;font-weight:400;white-space:nowrap;">0,00%</div>
<div style="position:absolute;left:142.80px;top:203.00px;width:56.20px;height:11.50px;background:#d8f6da;"></div>
<div id="t94" style="position:absolute;left:145.50px;top:205.11px;font-size:7.2px;line-height:7.2px;color:#6aae74;font-weight:400;white-space:nowrap;">100,00%</div>
<div style="position:absolute;left:142.80px;top:214.50px;width:56.20px;height:11.50px;background:#fdedf0;"></div>
<div id="t95" style="position:absolute;left:145.50px;top:216.61px;font-size:7.2px;line-height:7.2px;color:#e8607a;font-weight:400;white-space:nowrap;">0,00%</div>
<div style="position:absolute;left:50.80px;top:222.20px;width:11.80px;height:12.20px;border:0.8px solid #9494d4;box-sizing:border-box;border-radius:1.5px;box-shadow:0 0.6px 1px rgba(0,0,0,0.12);background:#fff;"></div>
<div style="position:absolute;left:66.70px;top:222.20px;width:11.80px;height:12.20px;border:0.8px solid #9494d4;box-sizing:border-box;border-radius:1.5px;box-shadow:0 0.6px 1px rgba(0,0,0,0.12);background:#fff;"></div>
<div style="position:absolute;left:82.60px;top:222.20px;width:11.80px;height:12.20px;border:0.8px solid #9494d4;box-sizing:border-box;border-radius:1.5px;box-shadow:0 0.6px 1px rgba(0,0,0,0.12);background:#fff;"></div>
<div style="position:absolute;left:98.50px;top:222.20px;width:11.80px;height:12.20px;border:0.8px solid #cfcfd4;box-sizing:border-box;border-radius:1.5px;box-shadow:0 0.6px 1px rgba(0,0,0,0.12);background:#fff;"></div>
<svg style="position:absolute;left:50.80px;top:222.30px;" width="12" height="12" viewBox="0 0 12 12"><path d="M3.4 3.6 H8.6 V4.7 H3.4 Z M5 3.6 V2.9 H7 V3.6" fill="#3a3a86" stroke="#3a3a86" stroke-width="0.5"/><path d="M3.9 5.2 H8.1 L7.8 9.2 H4.2 Z" fill="#5a5aa0" stroke="#2c2c78" stroke-width="0.6"/><path d="M4.8 6.4 H7.2 M4.8 7.8 H7.2" stroke="#c8c8e8" stroke-width="0.5"/></svg>
<svg style="position:absolute;left:66.70px;top:222.30px;" width="12" height="12" viewBox="0 0 12 12"><path d="M8.3 4.6 A2.9 2.9 0 1 0 8.6 7.6" fill="none" stroke="#2c2c78" stroke-width="1.0"/><circle cx="8.5" cy="4.0" r="0.95" fill="#2c2c78"/></svg>
<svg style="position:absolute;left:82.60px;top:222.30px;" width="12" height="12" viewBox="0 0 12 12"><path d="M8.4 4.8 A2.9 2.9 0 1 0 8.9 6.4" fill="none" stroke="#2c2c78" stroke-width="1.0"/><path d="M6 6.3 L8 4.4" stroke="#2c2c78" stroke-width="0.9"/><circle cx="8.5" cy="3.8" r="0.95" fill="#2c2c78"/></svg>
<svg style="position:absolute;left:98.50px;top:222.30px;" width="12" height="12" viewBox="0 0 12 12"><path d="M3.6 3.4 V8.8 M6 3.4 V8.8 M8.4 3.4 V8.8" stroke="#a0a0a8" stroke-width="0.7"/><path d="M2.9 5.2 H4.3 M5.3 7.2 H6.7 M7.7 4.8 H9.1" stroke="#8a8a92" stroke-width="1.2"/></svg>
<div style="position:absolute;left:48.50px;top:237.40px;width:157.80px;height:0.70px;background:#eff0f4;"></div>
<svg style="position:absolute;left:206.300px;top:191.500px" width="374.992" height="32.3" viewBox="0 0 374.992 32.3"><rect x="0" y="0" width="374.992" height="32.3" fill="#e3e2e4"/><rect x="0.000" y="0" width="8.152" height="32.3" fill="#d0e2f4"/><rect x="0.500" y="0.280" width="7.152" height="7.515" fill="#0d4c88"/><rect x="0.500" y="8.355" width="7.152" height="7.515" fill="#0d4c88"/><rect x="0.500" y="16.430" width="7.152" height="7.515" fill="#0d4c88"/><rect x="0.500" y="24.505" width="7.152" height="7.515" fill="#0d4c88"/><rect x="8.152" y="0" width="8.152" height="32.3" fill="#d0e2f4"/><rect x="8.652" y="0.280" width="7.152" height="7.515" fill="#0d4c88"/><rect x="8.652" y="8.355" width="7.152" height="7.515" fill="#0d4c88"/><rect x="8.652" y="16.430" width="7.152" height="7.515" fill="#0d4c88"/><rect x="8.652" y="24.505" width="7.152" height="7.515" fill="#0d4c88"/><rect x="32.608" y="0" width="8.152" height="32.3" fill="#d0e2f4"/><rect x="33.108" y="0.280" width="7.152" height="7.515" fill="#0d4c88"/><rect x="33.108" y="8.355" width="7.152" height="7.515" fill="#0d4c88"/><rect x="33.108" y="16.430" width="7.152" height="7.515" fill="#0d4c88"/><rect x="33.108" y="24.505" width="7.152" height="7.515" fill="#0d4c88"/><rect x="40.760" y="0" width="8.152" height="32.3" fill="#d0e2f4"/><rect x="41.260" y="0.280" width="7.152" height="7.515" fill="#0d4c88"/><rect x="41.260" y="8.355" width="7.152" height="7.515" fill="#0d4c88"/><rect x="41.260" y="16.430" width="7.152" height="7.515" fill="#0d4c88"/><rect x="41.260" y="24.505" width="7.152" height="7.515" fill="#0d4c88"/><rect x="48.912" y="0" width="8.152" height="32.3" fill="#d0e2f4"/><rect x="49.412" y="0.280" width="7.152" height="7.515" fill="#0d4c88"/><rect x="49.412" y="8.355" width="7.152" height="7.515" fill="#0d4c88"/><rect x="49.412" y="16.430" width="7.152" height="7.515" fill="#0d4c88"/><rect x="49.412" y="24.505" width="7.152" height="7.515" fill="#0d4c88"/><rect x="57.064" y="0" width="8.152" height="32.3" fill="#d0e2f4"/><rect x="57.564" y="0.280" width="7.152" height="7.515" fill="#0d4c88"/><rect x="57.564" y="8.355" width="7.152" height="7.515" fill="#0d4c88"/><rect x="57.564" y="16.430" width="7.152" height="7.515" fill="#0d4c88"/><rect x="57.564" y="24.505" width="7.152" height="7.515" fill="#0d4c88"/><rect x="65.216" y="0" width="8.152" height="32.3" fill="#d0e2f4"/><rect x="65.716" y="0.280" width="7.152" height="7.515" fill="#0d4c88"/><rect x="65.716" y="8.355" width="7.152" height="7.515" fill="#0d4c88"/><rect x="65.716" y="16.430" width="7.152" height="7.515" fill="#0d4c88"/><rect x="65.716" y="24.505" width="7.152" height="7.515" fill="#0d4c88"/><rect x="89.672" y="0" width="8.152" height="32.3" fill="#d0e2f4"/><rect x="90.172" y="0.280" width="7.152" height="7.515" fill="#0d4c88"/><rect x="90.172" y="8.355" width="7.152" height="7.515" fill="#0d4c88"/><rect x="90.172" y="16.430" width="7.152" height="7.515" fill="#0d4c88"/><rect x="90.172" y="24.505" width="7.152" height="7.515" fill="#0d4c88"/><rect x="97.824" y="0" width="8.152" height="32.3" fill="#d0e2f4"/><rect x="98.324" y="0.280" width="7.152" height="7.515" fill="#0d4c88"/><rect x="98.324" y="8.355" width="7.152" height="7.515" fill="#0d4c88"/><rect x="98.324" y="16.430" width="7.152" height="7.515" fill="#0d4c88"/><rect x="98.324" y="24.505" width="7.152" height="7.515" fill="#0d4c88"/><rect x="105.976" y="0" width="8.152" height="32.3" fill="#d0e2f4"/><rect x="106.476" y="0.280" width="7.152" height="7.515" fill="#0d4c88"/><rect x="106.476" y="8.355" width="7.152" height="7.515" fill="#0d4c88"/><rect x="106.476" y="16.430" width="7.152" height="7.515" fill="#0d4c88"/><rect x="106.476" y="24.505" width="7.152" height="7.515" fill="#0d4c88"/><rect x="114.128" y="0" width="8.152" height="32.3" fill="#d0e2f4"/><rect x="114.628" y="0.280" width="7.152" height="7.515" fill="#0d4c88"/><rect x="114.628" y="8.355" width="7.152" height="7.515" fill="#0d4c88"/><rect x="114.628" y="16.430" width="7.152" height="7.515" fill="#0d4c88"/><rect x="114.628" y="24.505" width="7.152" height="7.515" fill="#0d4c88"/><rect x="122.280" y="0" width="8.152" height="32.3" fill="#d0e2f4"/><rect x="122.780" y="0.280" width="7.152" height="7.515" fill="#0d4c88"/><rect x="122.780" y="8.355" width="7.152" height="7.515" fill="#0d4c88"/><rect x="122.780" y="16.430" width="7.152" height="7.515" fill="#0d4c88"/><rect x="122.780" y="24.505" width="7.152" height="7.515" fill="#0d4c88"/><rect x="146.736" y="0" width="8.152" height="32.3" fill="#d0e2f4"/><rect x="147.236" y="0.280" width="7.152" height="7.515" fill="#0d4c88"/><rect x="147.236" y="8.355" width="7.152" height="7.515" fill="#0d4c88"/><rect x="147.236" y="16.430" width="7.152" height="7.515" fill="#0d4c88"/><rect x="147.236" y="24.505" width="7.152" height="7.515" fill="#0d4c88"/><rect x="154.888" y="0" width="8.152" height="32.3" fill="#d0e2f4"/><rect x="155.388" y="0.280" width="7.152" height="7.515" fill="#0d4c88"/><rect x="155.388" y="8.355" width="7.152" height="7.515" fill="#0d4c88"/><rect x="155.388" y="16.430" width="7.152" height="7.515" fill="#0d4c88"/><rect x="155.388" y="24.505" width="7.152" height="7.515" fill="#0d4c88"/><rect x="163.040" y="0" width="8.152" height="32.3" fill="#d0e2f4"/><rect x="163.540" y="0.280" width="7.152" height="7.515" fill="#0d4c88"/><rect x="163.540" y="8.355" width="7.152" height="7.515" fill="#0d4c88"/><rect x="163.540" y="16.430" width="7.152" height="7.515" fill="#0d4c88"/><rect x="163.540" y="24.505" width="7.152" height="7.515" fill="#0d4c88"/><rect x="171.192" y="0" width="8.152" height="32.3" fill="#d0e2f4"/><rect x="171.692" y="0.280" width="7.152" height="7.515" fill="#0d4c88"/><rect x="171.692" y="8.355" width="7.152" height="7.515" fill="#0d4c88"/><rect x="171.692" y="16.430" width="7.152" height="7.515" fill="#0d4c88"/><rect x="171.692" y="24.505" width="7.152" height="7.515" fill="#0d4c88"/><rect x="179.344" y="0" width="8.152" height="32.3" fill="#d0e2f4"/><rect x="179.844" y="0.280" width="7.152" height="7.515" fill="#0d4c88"/><rect x="179.844" y="8.355" width="7.152" height="7.515" fill="#0d4c88"/><rect x="179.844" y="16.430" width="7.152" height="7.515" fill="#0d4c88"/><rect x="179.844" y="24.505" width="7.152" height="7.515" fill="#0d4c88"/><rect x="203.800" y="0" width="8.152" height="32.3" fill="#d0e2f4"/><rect x="204.300" y="0.280" width="7.152" height="7.515" fill="#0d4c88"/><rect x="204.300" y="8.355" width="7.152" height="7.515" fill="#0d4c88"/><rect x="204.300" y="16.430" width="7.152" height="7.515" fill="#0d4c88"/><rect x="204.300" y="24.505" width="7.152" height="7.515" fill="#0d4c88"/><rect x="211.952" y="0" width="8.152" height="32.3" fill="#d0e2f4"/><rect x="212.452" y="0.280" width="7.152" height="7.515" fill="#0d4c88"/><rect x="212.452" y="8.355" width="7.152" height="7.515" fill="#0d4c88"/><rect x="212.452" y="16.430" width="7.152" height="7.515" fill="#0d4c88"/><rect x="212.452" y="24.505" width="7.152" height="7.515" fill="#0d4c88"/><rect x="220.104" y="0" width="8.152" height="32.3" fill="#d0e2f4"/><rect x="220.604" y="0.280" width="7.152" height="7.515" fill="#0d4c88"/><rect x="220.604" y="8.355" width="7.152" height="7.515" fill="#0d4c88"/><rect x="220.604" y="16.430" width="7.152" height="7.515" fill="#0d4c88"/><rect x="220.604" y="24.505" width="7.152" height="7.515" fill="#0d4c88"/><rect x="228.256" y="0" width="8.152" height="32.3" fill="#d0e2f4"/><rect x="228.756" y="0.280" width="7.152" height="7.515" fill="#0d4c88"/><rect x="228.756" y="8.355" width="7.152" height="7.515" fill="#0d4c88"/><rect x="228.756" y="16.430" width="7.152" height="7.515" fill="#0d4c88"/><rect x="228.756" y="24.505" width="7.152" height="7.515" fill="#0d4c88"/><rect x="236.408" y="0" width="8.152" height="32.3" fill="#d0e2f4"/><rect x="236.908" y="0.280" width="7.152" height="7.515" fill="#0d4c88"/><rect x="236.908" y="8.355" width="7.152" height="7.515" fill="#0d4c88"/><rect x="236.908" y="16.430" width="7.152" height="7.515" fill="#0d4c88"/><rect x="236.908" y="24.505" width="7.152" height="7.515" fill="#0d4c88"/><rect x="260.864" y="0" width="8.152" height="32.3" fill="#d0e2f4"/><rect x="261.364" y="0.280" width="7.152" height="7.515" fill="#0d4c88"/><rect x="261.364" y="8.355" width="7.152" height="7.515" fill="#0d4c88"/><rect x="261.364" y="16.430" width="7.152" height="7.515" fill="#0d4c88"/><rect x="261.364" y="24.505" width="7.152" height="7.515" fill="#0d4c88"/><rect x="269.016" y="0" width="8.152" height="32.3" fill="#d0e2f4"/><rect x="269.516" y="0.280" width="7.152" height="7.515" fill="#0d4c88"/><rect x="269.516" y="8.355" width="7.152" height="7.515" fill="#0d4c88"/><rect x="269.516" y="16.430" width="7.152" height="7.515" fill="#0d4c88"/><rect x="269.516" y="24.505" width="7.152" height="7.515" fill="#0d4c88"/><rect x="277.168" y="0" width="8.152" height="32.3" fill="#d0e2f4"/><rect x="277.668" y="0.280" width="7.152" height="7.515" fill="#0d4c88"/><rect x="277.668" y="8.355" width="7.152" height="7.515" fill="#0d4c88"/><rect x="277.668" y="16.430" width="7.152" height="7.515" fill="#0d4c88"/><rect x="277.668" y="24.505" width="7.152" height="7.515" fill="#0d4c88"/><rect x="285.320" y="0" width="8.152" height="32.3" fill="#d0e2f4"/><rect x="285.820" y="0.280" width="7.152" height="7.515" fill="#0d4c88"/><rect x="285.820" y="8.355" width="7.152" height="7.515" fill="#0d4c88"/><rect x="285.820" y="16.430" width="7.152" height="7.515" fill="#0d4c88"/><rect x="285.820" y="24.505" width="7.152" height="7.515" fill="#0d4c88"/><rect x="293.472" y="0" width="8.152" height="32.3" fill="#d0e2f4"/><rect x="293.972" y="0.280" width="7.152" height="7.515" fill="#0d4c88"/><rect x="293.972" y="8.355" width="7.152" height="7.515" fill="#0d4c88"/><rect x="293.972" y="16.430" width="7.152" height="7.515" fill="#0d4c88"/><rect x="293.972" y="24.505" width="7.152" height="7.515" fill="#0d4c88"/><rect x="317.928" y="0" width="8.152" height="32.3" fill="#d0e2f4"/><rect x="318.428" y="0.280" width="7.152" height="7.515" fill="#0d4c88"/><rect x="318.428" y="8.355" width="7.152" height="7.515" fill="#0d4c88"/><rect x="318.428" y="16.430" width="7.152" height="7.515" fill="#0d4c88"/><rect x="318.428" y="24.505" width="7.152" height="7.515" fill="#0d4c88"/><rect x="326.080" y="0" width="8.152" height="32.3" fill="#d0e2f4"/><rect x="326.580" y="0.280" width="7.152" height="7.515" fill="#0d4c88"/><rect x="326.580" y="8.355" width="7.152" height="7.515" fill="#0d4c88"/><rect x="326.580" y="16.430" width="7.152" height="7.515" fill="#0d4c88"/><rect x="326.580" y="24.505" width="7.152" height="7.515" fill="#0d4c88"/><rect x="334.232" y="0" width="8.152" height="32.3" fill="#d0e2f4"/><rect x="334.732" y="0.280" width="7.152" height="7.515" fill="#0d4c88"/><rect x="334.732" y="8.355" width="7.152" height="7.515" fill="#0d4c88"/><rect x="334.732" y="16.430" width="7.152" height="7.515" fill="#0d4c88"/><rect x="334.732" y="24.505" width="7.152" height="7.515" fill="#0d4c88"/><rect x="342.384" y="0" width="8.152" height="32.3" fill="#d0e2f4"/><rect x="342.884" y="0.280" width="7.152" height="7.515" fill="#0d4c88"/><rect x="342.884" y="8.355" width="7.152" height="7.515" fill="#0d4c88"/><rect x="342.884" y="16.430" width="7.152" height="7.515" fill="#0d4c88"/><rect x="342.884" y="24.505" width="7.152" height="7.515" fill="#0d4c88"/><rect x="350.536" y="0" width="8.152" height="32.3" fill="#d0e2f4"/><rect x="351.036" y="0.280" width="7.152" height="7.515" fill="#0d4c88"/><rect x="351.036" y="8.355" width="7.152" height="7.515" fill="#0d4c88"/><rect x="351.036" y="16.430" width="7.152" height="7.515" fill="#0d4c88"/><rect x="351.036" y="24.505" width="7.152" height="7.515" fill="#0d4c88"/></svg>
<div id="t96" style="position:absolute;left:51.00px;top:241.21px;font-size:7.9px;line-height:7.9px;color:#25256a;font-weight:700;white-space:nowrap;transform:scaleX(0.8742);transform-origin:0 0;">Michel PRACTICE MANA...</div>
<div id="t97" style="position:absolute;left:51.00px;top:249.24px;font-size:6.1px;line-height:6.1px;color:#7c7c84;font-weight:400;white-space:nowrap;transform:scaleX(0.837);transform-origin:0 0;">Practice Manager</div>
<div id="t98" style="position:absolute;left:51.00px;top:255.14px;font-size:6.1px;line-height:6.1px;color:#7c7c84;font-weight:400;white-space:nowrap;transform:scaleX(0.837);transform-origin:0 0;">(6 et + ) Expert</div>
<div id="t99" style="position:absolute;left:51.00px;top:260.94px;font-size:6.1px;line-height:6.1px;color:#7c7c84;font-weight:400;white-space:nowrap;transform:scaleX(0.837);transform-origin:0 0;">Pierre PRACTICE DIRECTOR</div>
<div style="position:absolute;left:142.80px;top:240.50px;width:56.20px;height:11.50px;background:#fdedf0;"></div>
<div id="t100" style="position:absolute;left:145.50px;top:242.61px;font-size:7.2px;line-height:7.2px;color:#e8607a;font-weight:400;white-space:nowrap;">0,00%</div>
<div style="position:absolute;left:142.80px;top:252.00px;width:56.20px;height:11.50px;background:#d8f6da;"></div>
<div id="t101" style="position:absolute;left:145.50px;top:254.11px;font-size:7.2px;line-height:7.2px;color:#6aae74;font-weight:400;white-space:nowrap;">85,00%</div>
<div style="position:absolute;left:142.80px;top:263.50px;width:56.20px;height:11.50px;background:#fdedf0;"></div>
<div id="t102" style="position:absolute;left:145.50px;top:265.61px;font-size:7.2px;line-height:7.2px;color:#e8607a;font-weight:400;white-space:nowrap;">0,00%</div>
<div style="position:absolute;left:50.80px;top:271.20px;width:11.80px;height:12.20px;border:0.8px solid #9494d4;box-sizing:border-box;border-radius:1.5px;box-shadow:0 0.6px 1px rgba(0,0,0,0.12);background:#fff;"></div>
<div style="position:absolute;left:66.70px;top:271.20px;width:11.80px;height:12.20px;border:0.8px solid #9494d4;box-sizing:border-box;border-radius:1.5px;box-shadow:0 0.6px 1px rgba(0,0,0,0.12);background:#fff;"></div>
<div style="position:absolute;left:82.60px;top:271.20px;width:11.80px;height:12.20px;border:0.8px solid #9494d4;box-sizing:border-box;border-radius:1.5px;box-shadow:0 0.6px 1px rgba(0,0,0,0.12);background:#fff;"></div>
<div style="position:absolute;left:98.50px;top:271.20px;width:11.80px;height:12.20px;border:0.8px solid #cfcfd4;box-sizing:border-box;border-radius:1.5px;box-shadow:0 0.6px 1px rgba(0,0,0,0.12);background:#fff;"></div>
<svg style="position:absolute;left:50.80px;top:271.30px;" width="12" height="12" viewBox="0 0 12 12"><path d="M3.4 3.6 H8.6 V4.7 H3.4 Z M5 3.6 V2.9 H7 V3.6" fill="#3a3a86" stroke="#3a3a86" stroke-width="0.5"/><path d="M3.9 5.2 H8.1 L7.8 9.2 H4.2 Z" fill="#5a5aa0" stroke="#2c2c78" stroke-width="0.6"/><path d="M4.8 6.4 H7.2 M4.8 7.8 H7.2" stroke="#c8c8e8" stroke-width="0.5"/></svg>
<svg style="position:absolute;left:66.70px;top:271.30px;" width="12" height="12" viewBox="0 0 12 12"><path d="M8.3 4.6 A2.9 2.9 0 1 0 8.6 7.6" fill="none" stroke="#2c2c78" stroke-width="1.0"/><circle cx="8.5" cy="4.0" r="0.95" fill="#2c2c78"/></svg>
<svg style="position:absolute;left:82.60px;top:271.30px;" width="12" height="12" viewBox="0 0 12 12"><path d="M8.4 4.8 A2.9 2.9 0 1 0 8.9 6.4" fill="none" stroke="#2c2c78" stroke-width="1.0"/><path d="M6 6.3 L8 4.4" stroke="#2c2c78" stroke-width="0.9"/><circle cx="8.5" cy="3.8" r="0.95" fill="#2c2c78"/></svg>
<svg style="position:absolute;left:98.50px;top:271.30px;" width="12" height="12" viewBox="0 0 12 12"><path d="M3.6 3.4 V8.8 M6 3.4 V8.8 M8.4 3.4 V8.8" stroke="#a0a0a8" stroke-width="0.7"/><path d="M2.9 5.2 H4.3 M5.3 7.2 H6.7 M7.7 4.8 H9.1" stroke="#8a8a92" stroke-width="1.2"/></svg>
<div style="position:absolute;left:48.50px;top:297.90px;width:157.80px;height:0.70px;background:#eff0f4;"></div>
<svg style="position:absolute;left:206.300px;top:240.500px" width="374.992" height="32.3" viewBox="0 0 374.992 32.3"><rect x="0" y="0" width="374.992" height="32.3" fill="#e3e2e4"/><rect x="0.000" y="0" width="8.152" height="32.3" fill="#d0e2f4"/><rect x="0.500" y="0.280" width="7.152" height="7.515" fill="#0d4c88"/><rect x="0.500" y="8.355" width="7.152" height="7.515" fill="#0d4c88"/><rect x="0.500" y="16.430" width="7.152" height="7.515" fill="#0d4c88"/><rect x="0.500" y="24.505" width="7.152" height="7.515" fill="#0d4c88"/><rect x="8.152" y="0" width="8.152" height="32.3" fill="#d0e2f4"/><rect x="8.652" y="0.280" width="7.152" height="7.515" fill="#0d4c88"/><rect x="8.652" y="8.355" width="7.152" height="7.515" fill="#0d4c88"/><rect x="8.652" y="16.430" width="7.152" height="7.515" fill="#0d4c88"/><rect x="8.652" y="24.505" width="7.152" height="7.515" fill="#0d4c88"/><rect x="32.608" y="0" width="8.152" height="32.3" fill="#d0e2f4"/><rect x="33.108" y="0.280" width="7.152" height="7.515" fill="#0d4c88"/><rect x="33.108" y="8.355" width="7.152" height="7.515" fill="#0d4c88"/><rect x="33.108" y="16.430" width="7.152" height="7.515" fill="#0d4c88"/><rect x="33.108" y="24.505" width="7.152" height="7.515" fill="#0d4c88"/><rect x="40.760" y="0" width="8.152" height="32.3" fill="#d0e2f4"/><rect x="41.260" y="0.280" width="7.152" height="7.515" fill="#0d4c88"/><rect x="41.260" y="8.355" width="7.152" height="7.515" fill="#0d4c88"/><rect x="41.260" y="16.430" width="7.152" height="7.515" fill="#0d4c88"/><rect x="41.260" y="24.505" width="7.152" height="7.515" fill="#0d4c88"/><rect x="48.912" y="0" width="8.152" height="32.3" fill="#d0e2f4"/><rect x="49.412" y="0.280" width="7.152" height="7.515" fill="#0d4c88"/><rect x="49.412" y="8.355" width="7.152" height="7.515" fill="#0d4c88"/><rect x="49.412" y="16.430" width="7.152" height="7.515" fill="#0d4c88"/><rect x="49.412" y="24.505" width="7.152" height="7.515" fill="#0d4c88"/><rect x="57.064" y="0" width="8.152" height="32.3" fill="#f4f7fb"/><rect x="57.514" y="0.450" width="7.252" height="7.175" fill="#40bedc"/><rect x="57.514" y="8.525" width="7.252" height="7.175" fill="#40bedc"/><rect x="57.514" y="16.600" width="7.252" height="7.175" fill="#40bedc"/><rect x="57.514" y="24.675" width="7.252" height="7.175" fill="#40bedc"/><rect x="65.216" y="0" width="8.152" height="32.3" fill="#f4f7fb"/><rect x="65.666" y="0.450" width="7.252" height="7.175" fill="#40bedc"/><rect x="65.666" y="8.525" width="7.252" height="7.175" fill="#40bedc"/><rect x="65.666" y="16.600" width="7.252" height="7.175" fill="#40bedc"/><rect x="65.666" y="24.675" width="7.252" height="7.175" fill="#40bedc"/><rect x="89.672" y="0" width="8.152" height="32.3" fill="#f4f7fb"/><rect x="90.122" y="0.450" width="7.252" height="7.175" fill="#40bedc"/><rect x="90.122" y="8.525" width="7.252" height="7.175" fill="#40bedc"/><rect x="90.122" y="16.600" width="7.252" height="7.175" fill="#40bedc"/><rect x="90.122" y="24.675" width="7.252" height="7.175" fill="#40bedc"/><rect x="97.824" y="0" width="8.152" height="32.3" fill="#f4f7fb"/><rect x="98.274" y="0.450" width="7.252" height="7.175" fill="#40bedc"/><rect x="98.274" y="8.525" width="7.252" height="7.175" fill="#40bedc"/><rect x="98.274" y="16.600" width="7.252" height="7.175" fill="#40bedc"/><rect x="98.274" y="24.675" width="7.252" height="7.175" fill="#40bedc"/><rect x="105.976" y="0" width="8.152" height="32.3" fill="#f4f7fb"/><rect x="106.426" y="0.450" width="7.252" height="7.175" fill="#40bedc"/><rect x="106.426" y="8.525" width="7.252" height="7.175" fill="#40bedc"/><rect x="106.426" y="16.600" width="7.252" height="7.175" fill="#40bedc"/><rect x="106.426" y="24.675" width="7.252" height="7.175" fill="#40bedc"/><rect x="114.128" y="0" width="8.152" height="32.3" fill="#d0e2f4"/><rect x="114.628" y="0.280" width="7.152" height="7.515" fill="#0d4c88"/><rect x="114.628" y="8.355" width="7.152" height="7.515" fill="#0d4c88"/><rect x="114.628" y="16.430" width="7.152" height="7.515" fill="#0d4c88"/><rect x="114.628" y="24.505" width="7.152" height="7.515" fill="#0d4c88"/><rect x="122.280" y="0" width="8.152" height="32.3" fill="#d0e2f4"/><rect x="122.780" y="0.280" width="7.152" height="7.515" fill="#0d4c88"/><rect x="122.780" y="8.355" width="7.152" height="7.515" fill="#0d4c88"/><rect x="122.780" y="16.430" width="7.152" height="7.515" fill="#0d4c88"/><rect x="122.780" y="24.505" width="7.152" height="7.515" fill="#0d4c88"/><rect x="146.736" y="0" width="8.152" height="32.3" fill="#d0e2f4"/><rect x="147.236" y="0.280" width="7.152" height="7.515" fill="#0d4c88"/><rect x="147.236" y="8.355" width="7.152" height="7.515" fill="#0d4c88"/><rect x="147.236" y="16.430" width="7.152" height="7.515" fill="#0d4c88"/><rect x="147.236" y="24.505" width="7.152" height="7.515" fill="#0d4c88"/><rect x="154.888" y="0" width="8.152" height="32.3" fill="#d0e2f4"/><rect x="155.388" y="0.280" width="7.152" height="7.515" fill="#0d4c88"/><rect x="155.388" y="8.355" width="7.152" height="7.515" fill="#0d4c88"/><rect x="155.388" y="16.430" width="7.152" height="7.515" fill="#0d4c88"/><rect x="155.388" y="24.505" width="7.152" height="7.515" fill="#0d4c88"/><rect x="163.040" y="0" width="8.152" height="32.3" fill="#d0e2f4"/><rect x="163.540" y="0.280" width="7.152" height="7.515" fill="#0d4c88"/><rect x="163.540" y="8.355" width="7.152" height="7.515" fill="#0d4c88"/><rect x="163.540" y="16.430" width="7.152" height="7.515" fill="#0d4c88"/><rect x="163.540" y="24.505" width="7.152" height="7.515" fill="#0d4c88"/><rect x="171.192" y="0" width="8.152" height="32.3" fill="#dfe330"/><rect x="171.642" y="0.450" width="7.252" height="7.175" fill="#dadf08"/><rect x="171.642" y="8.525" width="7.252" height="7.175" fill="#dadf08"/><rect x="171.642" y="16.600" width="7.252" height="7.175" fill="#dadf08"/><rect x="171.642" y="24.675" width="7.252" height="7.175" fill="#dadf08"/><rect x="179.344" y="0" width="8.152" height="32.3" fill="#dfe330"/><rect x="179.794" y="0.450" width="7.252" height="7.175" fill="#dadf08"/><rect x="179.794" y="8.525" width="7.252" height="7.175" fill="#dadf08"/><rect x="179.794" y="16.600" width="7.252" height="7.175" fill="#dadf08"/><rect x="179.794" y="24.675" width="7.252" height="7.175" fill="#dadf08"/><rect x="203.800" y="0" width="8.152" height="32.3" fill="#f4f7fb"/><rect x="204.250" y="0.450" width="7.252" height="7.175" fill="#40bedc"/><rect x="204.250" y="8.525" width="7.252" height="7.175" fill="#40bedc"/><rect x="204.250" y="16.600" width="7.252" height="7.175" fill="#40bedc"/><rect x="204.250" y="24.675" width="7.252" height="7.175" fill="#40bedc"/><rect x="211.952" y="0" width="8.152" height="32.3" fill="#f4f7fb"/><rect x="212.402" y="0.450" width="7.252" height="7.175" fill="#40bedc"/><rect x="212.402" y="8.525" width="7.252" height="7.175" fill="#40bedc"/><rect x="212.402" y="16.600" width="7.252" height="7.175" fill="#40bedc"/><rect x="212.402" y="24.675" width="7.252" height="7.175" fill="#40bedc"/><rect x="220.104" y="0" width="8.152" height="32.3" fill="#d0e2f4"/><rect x="220.604" y="0.280" width="7.152" height="7.515" fill="#0d4c88"/><rect x="220.604" y="8.355" width="7.152" height="7.515" fill="#0d4c88"/><rect x="220.604" y="16.430" width="7.152" height="7.515" fill="#0d4c88"/><rect x="220.604" y="24.505" width="7.152" height="7.515" fill="#0d4c88"/><rect x="228.256" y="0" width="8.152" height="32.3" fill="#d0e2f4"/><rect x="228.756" y="0.280" width="7.152" height="7.515" fill="#0d4c88"/><rect x="228.756" y="8.355" width="7.152" height="7.515" fill="#0d4c88"/><rect x="228.756" y="16.430" width="7.152" height="7.515" fill="#0d4c88"/><rect x="228.756" y="24.505" width="7.152" height="7.515" fill="#0d4c88"/><rect x="236.408" y="0" width="8.152" height="32.3" fill="#d0e2f4"/><rect x="236.908" y="0.280" width="7.152" height="7.515" fill="#0d4c88"/><rect x="236.908" y="8.355" width="7.152" height="7.515" fill="#0d4c88"/><rect x="236.908" y="16.430" width="7.152" height="7.515" fill="#0d4c88"/><rect x="236.908" y="24.505" width="7.152" height="7.515" fill="#0d4c88"/><rect x="260.864" y="0" width="8.152" height="32.3" fill="#d0e2f4"/><rect x="261.364" y="0.280" width="7.152" height="7.515" fill="#0d4c88"/><rect x="261.364" y="8.355" width="7.152" height="7.515" fill="#0d4c88"/><rect x="261.364" y="16.430" width="7.152" height="7.515" fill="#0d4c88"/><rect x="261.364" y="24.505" width="7.152" height="7.515" fill="#0d4c88"/><rect x="269.016" y="0" width="8.152" height="32.3" fill="#d0e2f4"/><rect x="269.516" y="0.280" width="7.152" height="7.515" fill="#0d4c88"/><rect x="269.516" y="8.355" width="7.152" height="7.515" fill="#0d4c88"/><rect x="269.516" y="16.430" width="7.152" height="7.515" fill="#0d4c88"/><rect x="269.516" y="24.505" width="7.152" height="7.515" fill="#0d4c88"/><rect x="277.168" y="0" width="8.152" height="32.3" fill="#d0e2f4"/><rect x="277.668" y="0.280" width="7.152" height="7.515" fill="#0d4c88"/><rect x="277.668" y="8.355" width="7.152" height="7.515" fill="#0d4c88"/><rect x="277.668" y="16.430" width="7.152" height="7.515" fill="#0d4c88"/><rect x="277.668" y="24.505" width="7.152" height="7.515" fill="#0d4c88"/><rect x="285.320" y="0" width="8.152" height="32.3" fill="#f4f7fb"/><rect x="285.770" y="0.450" width="7.252" height="7.175" fill="#40bedc"/><rect x="285.770" y="8.525" width="7.252" height="7.175" fill="#40bedc"/><rect x="285.770" y="16.600" width="7.252" height="7.175" fill="#40bedc"/><rect x="285.770" y="24.675" width="7.252" height="7.175" fill="#40bedc"/><rect x="293.472" y="0" width="8.152" height="32.3" fill="#f4f7fb"/><rect x="293.922" y="0.450" width="7.252" height="7.175" fill="#40bedc"/><rect x="293.922" y="8.525" width="7.252" height="7.175" fill="#40bedc"/><rect x="293.922" y="16.600" width="7.252" height="7.175" fill="#40bedc"/><rect x="293.922" y="24.675" width="7.252" height="7.175" fill="#40bedc"/><rect x="317.928" y="0" width="8.152" height="32.3" fill="#dfe330"/><rect x="318.378" y="0.450" width="7.252" height="7.175" fill="#dadf08"/><rect x="318.378" y="8.525" width="7.252" height="7.175" fill="#dadf08"/><rect x="318.378" y="16.600" width="7.252" height="7.175" fill="#dadf08"/><rect x="318.378" y="24.675" width="7.252" height="7.175" fill="#dadf08"/><rect x="326.080" y="0" width="8.152" height="32.3" fill="#f4f7fb"/><rect x="326.530" y="0.450" width="7.252" height="7.175" fill="#40bedc"/><rect x="326.530" y="8.525" width="7.252" height="7.175" fill="#40bedc"/><rect x="326.530" y="16.600" width="7.252" height="7.175" fill="#40bedc"/><rect x="326.530" y="24.675" width="7.252" height="7.175" fill="#40bedc"/><rect x="334.232" y="0" width="8.152" height="32.3" fill="#f4f7fb"/><rect x="334.682" y="0.450" width="7.252" height="7.175" fill="#40bedc"/><rect x="334.682" y="8.525" width="7.252" height="7.175" fill="#40bedc"/><rect x="334.682" y="16.600" width="7.252" height="7.175" fill="#40bedc"/><rect x="334.682" y="24.675" width="7.252" height="7.175" fill="#40bedc"/><rect x="342.384" y="0" width="8.152" height="32.3" fill="#f4f7fb"/><rect x="342.834" y="0.450" width="7.252" height="7.175" fill="#40bedc"/><rect x="342.834" y="8.525" width="7.252" height="7.175" fill="#40bedc"/><rect x="342.834" y="16.600" width="7.252" height="7.175" fill="#40bedc"/><rect x="342.834" y="24.675" width="7.252" height="7.175" fill="#40bedc"/><rect x="350.536" y="0" width="8.152" height="32.3" fill="#f4f7fb"/><rect x="350.986" y="0.450" width="7.252" height="7.175" fill="#40bedc"/><rect x="350.986" y="8.525" width="7.252" height="7.175" fill="#40bedc"/><rect x="350.986" y="16.600" width="7.252" height="7.175" fill="#40bedc"/><rect x="350.986" y="24.675" width="7.252" height="7.175" fill="#40bedc"/></svg>
<div id="t103" style="position:absolute;left:51.00px;top:302.21px;font-size:7.9px;line-height:7.9px;color:#25256a;font-weight:700;white-space:nowrap;transform:scaleX(0.8565);transform-origin:0 0;">Christine PROJECT MAN...</div>
<div id="t104" style="position:absolute;left:51.00px;top:310.24px;font-size:6.1px;line-height:6.1px;color:#7c7c84;font-weight:400;white-space:nowrap;transform:scaleX(0.837);transform-origin:0 0;">Chef de projets</div>
<div id="t105" style="position:absolute;left:51.00px;top:316.14px;font-size:6.1px;line-height:6.1px;color:#7c7c84;font-weight:400;white-space:nowrap;transform:scaleX(0.837);transform-origin:0 0;">(6 et + ) Expert</div>
<div id="t106" style="position:absolute;left:51.00px;top:321.94px;font-size:6.1px;line-height:6.1px;color:#7c7c84;font-weight:400;white-space:nowrap;transform:scaleX(0.837);transform-origin:0 0;">Pierre PRACTICE DIRECTOR</div>
<div style="position:absolute;left:142.80px;top:301.50px;width:56.20px;height:11.50px;background:#fdedf0;"></div>
<div id="t107" style="position:absolute;left:145.50px;top:303.61px;font-size:7.2px;line-height:7.2px;color:#e8607a;font-weight:400;white-space:nowrap;">63,16%</div>
<div style="position:absolute;left:142.80px;top:313.00px;width:56.20px;height:11.50px;background:#fdedf0;"></div>
<div id="t108" style="position:absolute;left:145.50px;top:315.11px;font-size:7.2px;line-height:7.2px;color:#e8607a;font-weight:400;white-space:nowrap;">60,00%</div>
<div style="position:absolute;left:142.80px;top:324.50px;width:56.20px;height:11.50px;background:#fdedf0;"></div>
<div id="t109" style="position:absolute;left:145.50px;top:326.61px;font-size:7.2px;line-height:7.2px;color:#e8607a;font-weight:400;white-space:nowrap;">60,87%</div>
<div style="position:absolute;left:50.80px;top:332.20px;width:11.80px;height:12.20px;border:0.8px solid #9494d4;box-sizing:border-box;border-radius:1.5px;box-shadow:0 0.6px 1px rgba(0,0,0,0.12);background:#fff;"></div>
<div style="position:absolute;left:66.70px;top:332.20px;width:11.80px;height:12.20px;border:0.8px solid #9494d4;box-sizing:border-box;border-radius:1.5px;box-shadow:0 0.6px 1px rgba(0,0,0,0.12);background:#fff;"></div>
<div style="position:absolute;left:82.60px;top:332.20px;width:11.80px;height:12.20px;border:0.8px solid #9494d4;box-sizing:border-box;border-radius:1.5px;box-shadow:0 0.6px 1px rgba(0,0,0,0.12);background:#fff;"></div>
<div style="position:absolute;left:98.50px;top:332.20px;width:11.80px;height:12.20px;border:0.8px solid #cfcfd4;box-sizing:border-box;border-radius:1.5px;box-shadow:0 0.6px 1px rgba(0,0,0,0.12);background:#fff;"></div>
<svg style="position:absolute;left:50.80px;top:332.30px;" width="12" height="12" viewBox="0 0 12 12"><path d="M3.4 3.6 H8.6 V4.7 H3.4 Z M5 3.6 V2.9 H7 V3.6" fill="#3a3a86" stroke="#3a3a86" stroke-width="0.5"/><path d="M3.9 5.2 H8.1 L7.8 9.2 H4.2 Z" fill="#5a5aa0" stroke="#2c2c78" stroke-width="0.6"/><path d="M4.8 6.4 H7.2 M4.8 7.8 H7.2" stroke="#c8c8e8" stroke-width="0.5"/></svg>
<svg style="position:absolute;left:66.70px;top:332.30px;" width="12" height="12" viewBox="0 0 12 12"><path d="M8.3 4.6 A2.9 2.9 0 1 0 8.6 7.6" fill="none" stroke="#2c2c78" stroke-width="1.0"/><circle cx="8.5" cy="4.0" r="0.95" fill="#2c2c78"/></svg>
<svg style="position:absolute;left:82.60px;top:332.30px;" width="12" height="12" viewBox="0 0 12 12"><path d="M8.4 4.8 A2.9 2.9 0 1 0 8.9 6.4" fill="none" stroke="#2c2c78" stroke-width="1.0"/><path d="M6 6.3 L8 4.4" stroke="#2c2c78" stroke-width="0.9"/><circle cx="8.5" cy="3.8" r="0.95" fill="#2c2c78"/></svg>
<svg style="position:absolute;left:98.50px;top:332.30px;" width="12" height="12" viewBox="0 0 12 12"><path d="M3.6 3.4 V8.8 M6 3.4 V8.8 M8.4 3.4 V8.8" stroke="#a0a0a8" stroke-width="0.7"/><path d="M2.9 5.2 H4.3 M5.3 7.2 H6.7 M7.7 4.8 H9.1" stroke="#8a8a92" stroke-width="1.2"/></svg>
<div style="position:absolute;left:48.50px;top:357.80px;width:157.80px;height:0.70px;background:#eff0f4;"></div>
<svg style="position:absolute;left:206.300px;top:301.500px" width="374.992" height="32.3" viewBox="0 0 374.992 32.3"><rect x="0" y="0" width="374.992" height="32.3" fill="#e3e2e4"/><rect x="0.000" y="0" width="8.152" height="32.3" fill="#dfe330"/><rect x="0.450" y="0.450" width="7.252" height="7.175" fill="#dadf08"/><rect x="0.450" y="8.525" width="7.252" height="7.175" fill="#dadf08"/><rect x="0.450" y="16.600" width="7.252" height="7.175" fill="#dadf08"/><rect x="0.450" y="24.675" width="7.252" height="7.175" fill="#dadf08"/><rect x="8.152" y="0" width="8.152" height="32.3" fill="#dfe330"/><rect x="8.602" y="0.450" width="7.252" height="7.175" fill="#dadf08"/><rect x="8.602" y="8.525" width="7.252" height="7.175" fill="#dadf08"/><rect x="8.602" y="16.600" width="7.252" height="7.175" fill="#dadf08"/><rect x="8.602" y="24.675" width="7.252" height="7.175" fill="#dadf08"/><rect x="32.608" y="0" width="8.152" height="32.3" fill="#f4f7fb"/><rect x="33.058" y="0.450" width="7.252" height="7.175" fill="#40bedc"/><rect x="33.058" y="8.525" width="7.252" height="7.175" fill="#40bedc"/><rect x="33.058" y="16.600" width="7.252" height="7.175" fill="#40bedc"/><rect x="33.058" y="24.675" width="7.252" height="7.175" fill="#40bedc"/><rect x="40.760" y="0" width="8.152" height="32.3" fill="#f4f7fb"/><rect x="41.210" y="0.450" width="7.252" height="7.175" fill="#40bedc"/><rect x="41.210" y="8.525" width="7.252" height="7.175" fill="#40bedc"/><rect x="41.210" y="16.600" width="7.252" height="7.175" fill="#40bedc"/><rect x="41.210" y="24.675" width="7.252" height="7.175" fill="#40bedc"/><rect x="48.912" y="0" width="8.152" height="32.3" fill="#f4f7fb"/><rect x="49.362" y="0.450" width="7.252" height="7.175" fill="#40bedc"/><rect x="49.362" y="8.525" width="7.252" height="7.175" fill="#40bedc"/><rect x="49.362" y="16.600" width="7.252" height="7.175" fill="#40bedc"/><rect x="49.362" y="24.675" width="7.252" height="7.175" fill="#40bedc"/><rect x="57.064" y="0" width="8.152" height="32.3" fill="#d04a78"/><rect x="57.514" y="0.450" width="7.252" height="7.175" fill="#f07898"/><rect x="57.514" y="8.525" width="7.252" height="7.175" fill="#f07898"/><rect x="57.514" y="16.600" width="7.252" height="7.175" fill="#f07898"/><rect x="57.514" y="24.675" width="7.252" height="7.175" fill="#f07898"/><rect x="65.216" y="0" width="8.152" height="32.3" fill="#d04a78"/><rect x="65.666" y="0.450" width="7.252" height="7.175" fill="#f07898"/><rect x="65.666" y="8.525" width="7.252" height="7.175" fill="#f07898"/><rect x="65.666" y="16.600" width="7.252" height="7.175" fill="#f07898"/><rect x="65.666" y="24.675" width="7.252" height="7.175" fill="#f07898"/><rect x="89.672" y="0" width="8.152" height="32.3" fill="#f4f7fb"/><rect x="90.122" y="0.450" width="7.252" height="7.175" fill="#40bedc"/><rect x="90.122" y="8.525" width="7.252" height="7.175" fill="#40bedc"/><rect x="90.122" y="16.600" width="7.252" height="7.175" fill="#40bedc"/><rect x="90.122" y="24.675" width="7.252" height="7.175" fill="#40bedc"/><rect x="97.824" y="0" width="8.152" height="32.3" fill="#f4f7fb"/><rect x="98.274" y="0.450" width="7.252" height="7.175" fill="#40bedc"/><rect x="98.274" y="8.525" width="7.252" height="7.175" fill="#40bedc"/><rect x="98.274" y="16.600" width="7.252" height="7.175" fill="#40bedc"/><rect x="98.274" y="24.675" width="7.252" height="7.175" fill="#40bedc"/><rect x="105.976" y="0" width="8.152" height="32.3" fill="#f4f7fb"/><rect x="106.426" y="0.450" width="7.252" height="7.175" fill="#40bedc"/><rect x="106.426" y="8.525" width="7.252" height="7.175" fill="#40bedc"/><rect x="106.426" y="16.600" width="7.252" height="7.175" fill="#40bedc"/><rect x="106.426" y="24.675" width="7.252" height="7.175" fill="#40bedc"/><rect x="114.128" y="0" width="8.152" height="32.3" fill="#e6e6ea"/><rect x="114.578" y="0.450" width="7.252" height="7.175" fill="#ffffff"/><rect x="114.578" y="8.525" width="7.252" height="7.175" fill="#ffffff"/><rect x="114.578" y="16.600" width="7.252" height="7.175" fill="#ffffff"/><rect x="114.578" y="24.675" width="7.252" height="7.175" fill="#ffffff"/><rect x="122.280" y="0" width="8.152" height="32.3" fill="#a89ee0"/><rect x="122.730" y="0.450" width="7.252" height="7.175" fill="#7b6ac8"/><rect x="122.730" y="8.525" width="7.252" height="7.175" fill="#7b6ac8"/><rect x="122.730" y="16.600" width="7.252" height="7.175" fill="#7b6ac8"/><rect x="122.730" y="24.675" width="7.252" height="7.175" fill="#7b6ac8"/><rect x="146.736" y="0" width="8.152" height="32.3" fill="#f4f7fb"/><rect x="147.186" y="0.450" width="7.252" height="7.175" fill="#40bedc"/><rect x="147.186" y="8.525" width="7.252" height="7.175" fill="#40bedc"/><rect x="147.186" y="16.600" width="7.252" height="7.175" fill="#40bedc"/><rect x="147.186" y="24.675" width="7.252" height="7.175" fill="#40bedc"/><rect x="154.888" y="0" width="8.152" height="32.3" fill="#f4f7fb"/><rect x="155.338" y="0.450" width="7.252" height="7.175" fill="#40bedc"/><rect x="155.338" y="8.525" width="7.252" height="7.175" fill="#40bedc"/><rect x="155.338" y="16.600" width="7.252" height="7.175" fill="#40bedc"/><rect x="155.338" y="24.675" width="7.252" height="7.175" fill="#40bedc"/><rect x="163.040" y="0" width="8.152" height="32.3" fill="#f4f7fb"/><rect x="163.490" y="0.450" width="7.252" height="7.175" fill="#40bedc"/><rect x="163.490" y="8.525" width="7.252" height="7.175" fill="#40bedc"/><rect x="163.490" y="16.600" width="7.252" height="7.175" fill="#40bedc"/><rect x="163.490" y="24.675" width="7.252" height="7.175" fill="#40bedc"/><rect x="171.192" y="0" width="8.152" height="32.3" fill="#e6e6ea"/><rect x="171.642" y="0.450" width="7.252" height="7.175" fill="#ffffff"/><rect x="171.642" y="8.525" width="7.252" height="7.175" fill="#ffffff"/><rect x="171.642" y="16.600" width="7.252" height="7.175" fill="#ffffff"/><rect x="171.642" y="24.675" width="7.252" height="7.175" fill="#ffffff"/><rect x="179.344" y="0" width="8.152" height="32.3" fill="#e6e6ea"/><rect x="179.794" y="0.450" width="7.252" height="7.175" fill="#ffffff"/><rect x="179.794" y="8.525" width="7.252" height="7.175" fill="#ffffff"/><rect x="179.794" y="16.600" width="7.252" height="7.175" fill="#ffffff"/><rect x="179.794" y="24.675" width="7.252" height="7.175" fill="#ffffff"/><rect x="203.800" y="0" width="8.152" height="32.3" fill="#f4f7fb"/><rect x="204.250" y="0.450" width="7.252" height="7.175" fill="#40bedc"/><rect x="204.250" y="8.525" width="7.252" height="7.175" fill="#40bedc"/><rect x="204.250" y="16.600" width="7.252" height="7.175" fill="#40bedc"/><rect x="204.250" y="24.675" width="7.252" height="7.175" fill="#40bedc"/><rect x="211.952" y="0" width="8.152" height="32.3" fill="#f4f7fb"/><rect x="212.402" y="0.450" width="7.252" height="7.175" fill="#40bedc"/><rect x="212.402" y="8.525" width="7.252" height="7.175" fill="#40bedc"/><rect x="212.402" y="16.600" width="7.252" height="7.175" fill="#40bedc"/><rect x="212.402" y="24.675" width="7.252" height="7.175" fill="#40bedc"/><rect x="220.104" y="0" width="8.152" height="32.3" fill="#f4f7fb"/><rect x="220.554" y="0.450" width="7.252" height="7.175" fill="#40bedc"/><rect x="220.554" y="8.525" width="7.252" height="7.175" fill="#40bedc"/><rect x="220.554" y="16.600" width="7.252" height="7.175" fill="#40bedc"/><rect x="220.554" y="24.675" width="7.252" height="7.175" fill="#40bedc"/><rect x="228.256" y="0" width="8.152" height="32.3" fill="#e6e6ea"/><rect x="228.706" y="0.450" width="7.252" height="7.175" fill="#ffffff"/><rect x="228.706" y="8.525" width="7.252" height="7.175" fill="#ffffff"/><rect x="228.706" y="16.600" width="7.252" height="7.175" fill="#ffffff"/><rect x="228.706" y="24.675" width="7.252" height="7.175" fill="#ffffff"/><rect x="236.408" y="0" width="8.152" height="32.3" fill="#e6e6ea"/><rect x="236.858" y="0.450" width="7.252" height="7.175" fill="#ffffff"/><rect x="236.858" y="8.525" width="7.252" height="7.175" fill="#ffffff"/><rect x="236.858" y="16.600" width="7.252" height="7.175" fill="#ffffff"/><rect x="236.858" y="24.675" width="7.252" height="7.175" fill="#ffffff"/><rect x="260.864" y="0" width="8.152" height="32.3" fill="#f4f7fb"/><rect x="261.314" y="0.450" width="7.252" height="7.175" fill="#40bedc"/><rect x="261.314" y="8.525" width="7.252" height="7.175" fill="#40bedc"/><rect x="261.314" y="16.600" width="7.252" height="7.175" fill="#40bedc"/><rect x="261.314" y="24.675" width="7.252" height="7.175" fill="#40bedc"/><rect x="269.016" y="0" width="8.152" height="32.3" fill="#f4f7fb"/><rect x="269.466" y="0.450" width="7.252" height="7.175" fill="#40bedc"/><rect x="269.466" y="8.525" width="7.252" height="7.175" fill="#40bedc"/><rect x="269.466" y="16.600" width="7.252" height="7.175" fill="#40bedc"/><rect x="269.466" y="24.675" width="7.252" height="7.175" fill="#40bedc"/><rect x="277.168" y="0" width="8.152" height="32.3" fill="#f4f7fb"/><rect x="277.618" y="0.450" width="7.252" height="7.175" fill="#40bedc"/><rect x="277.618" y="8.525" width="7.252" height="7.175" fill="#40bedc"/><rect x="277.618" y="16.600" width="7.252" height="7.175" fill="#40bedc"/><rect x="277.618" y="24.675" width="7.252" height="7.175" fill="#40bedc"/><rect x="285.320" y="0" width="8.152" height="32.3" fill="#e6e6ea"/><rect x="285.770" y="0.450" width="7.252" height="7.175" fill="#ffffff"/><rect x="285.770" y="8.525" width="7.252" height="7.175" fill="#ffffff"/><rect x="285.770" y="16.600" width="7.252" height="7.175" fill="#ffffff"/><rect x="285.770" y="24.675" width="7.252" height="7.175" fill="#ffffff"/><rect x="293.472" y="0" width="8.152" height="32.3" fill="#e6e6ea"/><rect x="293.922" y="0.450" width="7.252" height="7.175" fill="#ffffff"/><rect x="293.922" y="8.525" width="7.252" height="7.175" fill="#ffffff"/><rect x="293.922" y="16.600" width="7.252" height="7.175" fill="#ffffff"/><rect x="293.922" y="24.675" width="7.252" height="7.175" fill="#ffffff"/><rect x="317.928" y="0" width="8.152" height="32.3" fill="#e6e6ea"/><rect x="318.378" y="0.450" width="7.252" height="7.175" fill="#ffffff"/><rect x="318.378" y="8.525" width="7.252" height="7.175" fill="#ffffff"/><rect x="318.378" y="16.600" width="7.252" height="7.175" fill="#ffffff"/><rect x="318.378" y="24.675" width="7.252" height="7.175" fill="#ffffff"/><rect x="326.080" y="0" width="8.152" height="32.3" fill="#e6e6ea"/><rect x="326.530" y="0.450" width="7.252" height="7.175" fill="#ffffff"/><rect x="326.530" y="8.525" width="7.252" height="7.175" fill="#ffffff"/><rect x="326.530" y="16.600" width="7.252" height="7.175" fill="#ffffff"/><rect x="326.530" y="24.675" width="7.252" height="7.175" fill="#ffffff"/><rect x="334.232" y="0" width="8.152" height="32.3" fill="#f4f7fb"/><rect x="334.682" y="0.450" width="7.252" height="7.175" fill="#40bedc"/><rect x="334.682" y="8.525" width="7.252" height="7.175" fill="#40bedc"/><rect x="334.682" y="16.600" width="7.252" height="7.175" fill="#40bedc"/><rect x="334.682" y="24.675" width="7.252" height="7.175" fill="#40bedc"/><rect x="342.384" y="0" width="8.152" height="32.3" fill="#f4f7fb"/><rect x="342.834" y="0.450" width="7.252" height="7.175" fill="#40bedc"/><rect x="342.834" y="8.525" width="7.252" height="7.175" fill="#40bedc"/><rect x="342.834" y="16.600" width="7.252" height="7.175" fill="#40bedc"/><rect x="342.834" y="24.675" width="7.252" height="7.175" fill="#40bedc"/><rect x="350.536" y="0" width="8.152" height="32.3" fill="#f4f7fb"/><rect x="350.986" y="0.450" width="7.252" height="7.175" fill="#40bedc"/><rect x="350.986" y="8.525" width="7.252" height="7.175" fill="#40bedc"/><rect x="350.986" y="16.600" width="7.252" height="7.175" fill="#40bedc"/><rect x="350.986" y="24.675" width="7.252" height="7.175" fill="#40bedc"/></svg>
<div id="t110" style="position:absolute;left:51.00px;top:362.21px;font-size:7.9px;line-height:7.9px;color:#25256a;font-weight:700;white-space:nowrap;transform:scaleX(0.8477);transform-origin:0 0;">Margot ALTERNANT1</div>
<div id="t111" style="position:absolute;left:51.00px;top:370.24px;font-size:6.1px;line-height:6.1px;color:#7c7c84;font-weight:400;white-space:nowrap;transform:scaleX(0.837);transform-origin:0 0;">Ingénieur Etudes et Développement</div>
<div id="t112" style="position:absolute;left:51.00px;top:376.14px;font-size:6.1px;line-height:6.1px;color:#7c7c84;font-weight:400;white-space:nowrap;transform:scaleX(0.837);transform-origin:0 0;">Stagiaire</div>
<div id="t113" style="position:absolute;left:51.00px;top:381.94px;font-size:6.1px;line-height:6.1px;color:#7c7c84;font-weight:400;white-space:nowrap;transform:scaleX(0.837);transform-origin:0 0;">Romain PRACTICE MANAGER</div>
<div style="position:absolute;left:142.80px;top:361.50px;width:56.20px;height:11.50px;background:#d8f6da;"></div>
<div id="t114" style="position:absolute;left:145.50px;top:363.61px;font-size:7.2px;line-height:7.2px;color:#6aae74;font-weight:400;white-space:nowrap;">0,00%</div>
<div style="position:absolute;left:142.80px;top:373.00px;width:56.20px;height:11.50px;background:#d8f6da;"></div>
<div id="t115" style="position:absolute;left:145.50px;top:375.11px;font-size:7.2px;line-height:7.2px;color:#6aae74;font-weight:400;white-space:nowrap;">0,00%</div>
<div style="position:absolute;left:142.80px;top:384.50px;width:56.20px;height:11.50px;background:#d8f6da;"></div>
<div id="t116" style="position:absolute;left:145.50px;top:386.61px;font-size:7.2px;line-height:7.2px;color:#6aae74;font-weight:400;white-space:nowrap;">0,00%</div>
<div style="position:absolute;left:50.80px;top:392.20px;width:11.80px;height:12.20px;border:0.8px solid #9494d4;box-sizing:border-box;border-radius:1.5px;box-shadow:0 0.6px 1px rgba(0,0,0,0.12);background:#fff;"></div>
<div style="position:absolute;left:66.70px;top:392.20px;width:11.80px;height:12.20px;border:0.8px solid #9494d4;box-sizing:border-box;border-radius:1.5px;box-shadow:0 0.6px 1px rgba(0,0,0,0.12);background:#fff;"></div>
<div style="position:absolute;left:82.60px;top:392.20px;width:11.80px;height:12.20px;border:0.8px solid #9494d4;box-sizing:border-box;border-radius:1.5px;box-shadow:0 0.6px 1px rgba(0,0,0,0.12);background:#fff;"></div>
<div style="position:absolute;left:98.50px;top:392.20px;width:11.80px;height:12.20px;border:0.8px solid #cfcfd4;box-sizing:border-box;border-radius:1.5px;box-shadow:0 0.6px 1px rgba(0,0,0,0.12);background:#fff;"></div>
<svg style="position:absolute;left:50.80px;top:392.30px;" width="12" height="12" viewBox="0 0 12 12"><path d="M3.4 3.6 H8.6 V4.7 H3.4 Z M5 3.6 V2.9 H7 V3.6" fill="#3a3a86" stroke="#3a3a86" stroke-width="0.5"/><path d="M3.9 5.2 H8.1 L7.8 9.2 H4.2 Z" fill="#5a5aa0" stroke="#2c2c78" stroke-width="0.6"/><path d="M4.8 6.4 H7.2 M4.8 7.8 H7.2" stroke="#c8c8e8" stroke-width="0.5"/></svg>
<svg style="position:absolute;left:66.70px;top:392.30px;" width="12" height="12" viewBox="0 0 12 12"><path d="M8.3 4.6 A2.9 2.9 0 1 0 8.6 7.6" fill="none" stroke="#2c2c78" stroke-width="1.0"/><circle cx="8.5" cy="4.0" r="0.95" fill="#2c2c78"/></svg>
<svg style="position:absolute;left:82.60px;top:392.30px;" width="12" height="12" viewBox="0 0 12 12"><path d="M8.4 4.8 A2.9 2.9 0 1 0 8.9 6.4" fill="none" stroke="#2c2c78" stroke-width="1.0"/><path d="M6 6.3 L8 4.4" stroke="#2c2c78" stroke-width="0.9"/><circle cx="8.5" cy="3.8" r="0.95" fill="#2c2c78"/></svg>
<svg style="position:absolute;left:98.50px;top:392.30px;" width="12" height="12" viewBox="0 0 12 12"><path d="M3.6 3.4 V8.8 M6 3.4 V8.8 M8.4 3.4 V8.8" stroke="#a0a0a8" stroke-width="0.7"/><path d="M2.9 5.2 H4.3 M5.3 7.2 H6.7 M7.7 4.8 H9.1" stroke="#8a8a92" stroke-width="1.2"/></svg>
<div style="position:absolute;left:48.50px;top:408.40px;width:157.80px;height:0.70px;background:#eff0f4;"></div>
<svg style="position:absolute;left:206.300px;top:361.500px" width="374.992" height="32.3" viewBox="0 0 374.992 32.3"><rect x="0" y="0" width="374.992" height="32.3" fill="#e3e2e4"/><rect x="0.100" y="0.2" width="16.104" height="31.9" fill="#cdcdcf"/><rect x="32.708" y="0.2" width="40.560" height="31.9" fill="#cdcdcf"/><rect x="89.672" y="0" width="8.152" height="32.3" fill="#e6e6ea"/><rect x="90.122" y="0.450" width="7.252" height="7.175" fill="#ffffff"/><rect x="90.122" y="8.525" width="7.252" height="7.175" fill="#ffffff"/><rect x="90.122" y="16.600" width="7.252" height="7.175" fill="#ffffff"/><rect x="90.122" y="24.675" width="7.252" height="7.175" fill="#ffffff"/><rect x="97.824" y="0" width="8.152" height="32.3" fill="#e6e6ea"/><rect x="98.274" y="0.450" width="7.252" height="7.175" fill="#ffffff"/><rect x="98.274" y="8.525" width="7.252" height="7.175" fill="#ffffff"/><rect x="98.274" y="16.600" width="7.252" height="7.175" fill="#ffffff"/><rect x="98.274" y="24.675" width="7.252" height="7.175" fill="#ffffff"/><rect x="105.976" y="0" width="8.152" height="32.3" fill="#e6e6ea"/><rect x="106.426" y="0.450" width="7.252" height="7.175" fill="#ffffff"/><rect x="106.426" y="8.525" width="7.252" height="7.175" fill="#ffffff"/><rect x="106.426" y="16.600" width="7.252" height="7.175" fill="#ffffff"/><rect x="106.426" y="24.675" width="7.252" height="7.175" fill="#ffffff"/><rect x="114.128" y="0" width="8.152" height="32.3" fill="#e6e6ea"/><rect x="114.578" y="0.450" width="7.252" height="7.175" fill="#ffffff"/><rect x="114.578" y="8.525" width="7.252" height="7.175" fill="#ffffff"/><rect x="114.578" y="16.600" width="7.252" height="7.175" fill="#ffffff"/><rect x="114.578" y="24.675" width="7.252" height="7.175" fill="#ffffff"/><rect x="122.280" y="0" width="8.152" height="32.3" fill="#e6e6ea"/><rect x="122.730" y="0.450" width="7.252" height="7.175" fill="#ffffff"/><rect x="122.730" y="8.525" width="7.252" height="7.175" fill="#ffffff"/><rect x="122.730" y="16.600" width="7.252" height="7.175" fill="#ffffff"/><rect x="122.730" y="24.675" width="7.252" height="7.175" fill="#ffffff"/><rect x="146.736" y="0" width="8.152" height="32.3" fill="#e6e6ea"/><rect x="147.186" y="0.450" width="7.252" height="7.175" fill="#ffffff"/><rect x="147.186" y="8.525" width="7.252" height="7.175" fill="#ffffff"/><rect x="147.186" y="16.600" width="7.252" height="7.175" fill="#ffffff"/><rect x="147.186" y="24.675" width="7.252" height="7.175" fill="#ffffff"/><rect x="154.888" y="0" width="8.152" height="32.3" fill="#e6e6ea"/><rect x="155.338" y="0.450" width="7.252" height="7.175" fill="#ffffff"/><rect x="155.338" y="8.525" width="7.252" height="7.175" fill="#ffffff"/><rect x="155.338" y="16.600" width="7.252" height="7.175" fill="#ffffff"/><rect x="155.338" y="24.675" width="7.252" height="7.175" fill="#ffffff"/><rect x="163.040" y="0" width="8.152" height="32.3" fill="#e6e6ea"/><rect x="163.490" y="0.450" width="7.252" height="7.175" fill="#ffffff"/><rect x="163.490" y="8.525" width="7.252" height="7.175" fill="#ffffff"/><rect x="163.490" y="16.600" width="7.252" height="7.175" fill="#ffffff"/><rect x="163.490" y="24.675" width="7.252" height="7.175" fill="#ffffff"/><rect x="171.192" y="0" width="8.152" height="32.3" fill="#e6e6ea"/><rect x="171.642" y="0.450" width="7.252" height="7.175" fill="#ffffff"/><rect x="171.642" y="8.525" width="7.252" height="7.175" fill="#ffffff"/><rect x="171.642" y="16.600" width="7.252" height="7.175" fill="#ffffff"/><rect x="171.642" y="24.675" width="7.252" height="7.175" fill="#ffffff"/><rect x="179.344" y="0" width="8.152" height="32.3" fill="#e6e6ea"/><rect x="179.794" y="0.450" width="7.252" height="7.175" fill="#ffffff"/><rect x="179.794" y="8.525" width="7.252" height="7.175" fill="#ffffff"/><rect x="179.794" y="16.600" width="7.252" height="7.175" fill="#ffffff"/><rect x="179.794" y="24.675" width="7.252" height="7.175" fill="#ffffff"/><rect x="203.800" y="0" width="8.152" height="32.3" fill="#e6e6ea"/><rect x="204.250" y="0.450" width="7.252" height="7.175" fill="#ffffff"/><rect x="204.250" y="8.525" width="7.252" height="7.175" fill="#ffffff"/><rect x="204.250" y="16.600" width="7.252" height="7.175" fill="#ffffff"/><rect x="204.250" y="24.675" width="7.252" height="7.175" fill="#ffffff"/><rect x="211.952" y="0" width="8.152" height="32.3" fill="#e6e6ea"/><rect x="212.402" y="0.450" width="7.252" height="7.175" fill="#ffffff"/><rect x="212.402" y="8.525" width="7.252" height="7.175" fill="#ffffff"/><rect x="212.402" y="16.600" width="7.252" height="7.175" fill="#ffffff"/><rect x="212.402" y="24.675" width="7.252" height="7.175" fill="#ffffff"/><rect x="220.104" y="0" width="8.152" height="32.3" fill="#e6e6ea"/><rect x="220.554" y="0.450" width="7.252" height="7.175" fill="#ffffff"/><rect x="220.554" y="8.525" width="7.252" height="7.175" fill="#ffffff"/><rect x="220.554" y="16.600" width="7.252" height="7.175" fill="#ffffff"/><rect x="220.554" y="24.675" width="7.252" height="7.175" fill="#ffffff"/><rect x="228.256" y="0" width="8.152" height="32.3" fill="#e6e6ea"/><rect x="228.706" y="0.450" width="7.252" height="7.175" fill="#ffffff"/><rect x="228.706" y="8.525" width="7.252" height="7.175" fill="#ffffff"/><rect x="228.706" y="16.600" width="7.252" height="7.175" fill="#ffffff"/><rect x="228.706" y="24.675" width="7.252" height="7.175" fill="#ffffff"/><rect x="236.408" y="0" width="8.152" height="32.3" fill="#e6e6ea"/><rect x="236.858" y="0.450" width="7.252" height="7.175" fill="#ffffff"/><rect x="236.858" y="8.525" width="7.252" height="7.175" fill="#ffffff"/><rect x="236.858" y="16.600" width="7.252" height="7.175" fill="#ffffff"/><rect x="236.858" y="24.675" width="7.252" height="7.175" fill="#ffffff"/><rect x="260.864" y="0" width="8.152" height="32.3" fill="#e6e6ea"/><rect x="261.314" y="0.450" width="7.252" height="7.175" fill="#ffffff"/><rect x="261.314" y="8.525" width="7.252" height="7.175" fill="#ffffff"/><rect x="261.314" y="16.600" width="7.252" height="7.175" fill="#ffffff"/><rect x="261.314" y="24.675" width="7.252" height="7.175" fill="#ffffff"/><rect x="269.016" y="0" width="8.152" height="32.3" fill="#e6e6ea"/><rect x="269.466" y="0.450" width="7.252" height="7.175" fill="#ffffff"/><rect x="269.466" y="8.525" width="7.252" height="7.175" fill="#ffffff"/><rect x="269.466" y="16.600" width="7.252" height="7.175" fill="#ffffff"/><rect x="269.466" y="24.675" width="7.252" height="7.175" fill="#ffffff"/><rect x="277.168" y="0" width="8.152" height="32.3" fill="#e6e6ea"/><rect x="277.618" y="0.450" width="7.252" height="7.175" fill="#ffffff"/><rect x="277.618" y="8.525" width="7.252" height="7.175" fill="#ffffff"/><rect x="277.618" y="16.600" width="7.252" height="7.175" fill="#ffffff"/><rect x="277.618" y="24.675" width="7.252" height="7.175" fill="#ffffff"/><rect x="285.320" y="0" width="8.152" height="32.3" fill="#e6e6ea"/><rect x="285.770" y="0.450" width="7.252" height="7.175" fill="#ffffff"/><rect x="285.770" y="8.525" width="7.252" height="7.175" fill="#ffffff"/><rect x="285.770" y="16.600" width="7.252" height="7.175" fill="#ffffff"/><rect x="285.770" y="24.675" width="7.252" height="7.175" fill="#ffffff"/><rect x="293.472" y="0" width="8.152" height="32.3" fill="#e6e6ea"/><rect x="293.922" y="0.450" width="7.252" height="7.175" fill="#ffffff"/><rect x="293.922" y="8.525" width="7.252" height="7.175" fill="#ffffff"/><rect x="293.922" y="16.600" width="7.252" height="7.175" fill="#ffffff"/><rect x="293.922" y="24.675" width="7.252" height="7.175" fill="#ffffff"/><rect x="317.928" y="0" width="8.152" height="32.3" fill="#e6e6ea"/><rect x="318.378" y="0.450" width="7.252" height="7.175" fill="#ffffff"/><rect x="318.378" y="8.525" width="7.252" height="7.175" fill="#ffffff"/><rect x="318.378" y="16.600" width="7.252" height="7.175" fill="#ffffff"/><rect x="318.378" y="24.675" width="7.252" height="7.175" fill="#ffffff"/><rect x="326.080" y="0" width="8.152" height="32.3" fill="#e6e6ea"/><rect x="326.530" y="0.450" width="7.252" height="7.175" fill="#ffffff"/><rect x="326.530" y="8.525" width="7.252" height="7.175" fill="#ffffff"/><rect x="326.530" y="16.600" width="7.252" height="7.175" fill="#ffffff"/><rect x="326.530" y="24.675" width="7.252" height="7.175" fill="#ffffff"/><rect x="334.232" y="0" width="8.152" height="32.3" fill="#e6e6ea"/><rect x="334.682" y="0.450" width="7.252" height="7.175" fill="#ffffff"/><rect x="334.682" y="8.525" width="7.252" height="7.175" fill="#ffffff"/><rect x="334.682" y="16.600" width="7.252" height="7.175" fill="#ffffff"/><rect x="334.682" y="24.675" width="7.252" height="7.175" fill="#ffffff"/><rect x="342.384" y="0" width="8.152" height="32.3" fill="#e6e6ea"/><rect x="342.834" y="0.450" width="7.252" height="7.175" fill="#ffffff"/><rect x="342.834" y="8.525" width="7.252" height="7.175" fill="#ffffff"/><rect x="342.834" y="16.600" width="7.252" height="7.175" fill="#ffffff"/><rect x="342.834" y="24.675" width="7.252" height="7.175" fill="#ffffff"/><rect x="350.536" y="0" width="8.152" height="32.3" fill="#e6e6ea"/><rect x="350.986" y="0.450" width="7.252" height="7.175" fill="#ffffff"/><rect x="350.986" y="8.525" width="7.252" height="7.175" fill="#ffffff"/><rect x="350.986" y="16.600" width="7.252" height="7.175" fill="#ffffff"/><rect x="350.986" y="24.675" width="7.252" height="7.175" fill="#ffffff"/></svg>
<div id="t117" style="position:absolute;left:51.00px;top:411.21px;font-size:7.9px;line-height:7.9px;color:#25256a;font-weight:700;white-space:nowrap;transform:scaleX(0.8476);transform-origin:0 0;">Aziz EXTERNAL1</div>
<div id="t118" style="position:absolute;left:51.00px;top:419.24px;font-size:6.1px;line-height:6.1px;color:#f06a7a;font-weight:400;white-space:nowrap;transform:scaleX(0.837);transform-origin:0 0;">NET EXPERTS</div>
<div id="t119" style="position:absolute;left:51.00px;top:425.14px;font-size:6.1px;line-height:6.1px;color:#7c7c84;font-weight:400;white-space:nowrap;transform:scaleX(0.837);transform-origin:0 0;">(2 - 5 ) Confirmé</div>
<div id="t120" style="position:absolute;left:51.00px;top:430.94px;font-size:6.1px;line-height:6.1px;color:#7c7c84;font-weight:400;white-space:nowrap;transform:scaleX(0.837);transform-origin:0 0;">Romain PRACTICE MANAGER</div>
<div style="position:absolute;left:142.80px;top:410.50px;width:56.20px;height:11.50px;background:#d8f6da;"></div>
<div id="t121" style="position:absolute;left:145.50px;top:412.61px;font-size:7.2px;line-height:7.2px;color:#6aae74;font-weight:400;white-space:nowrap;">100,00%</div>
<div style="position:absolute;left:142.80px;top:422.00px;width:56.20px;height:11.50px;background:#d8f6da;"></div>
<div id="t122" style="position:absolute;left:145.50px;top:424.11px;font-size:7.2px;line-height:7.2px;color:#6aae74;font-weight:400;white-space:nowrap;">100,00%</div>
<div style="position:absolute;left:142.80px;top:433.50px;width:56.20px;height:11.50px;background:#fdedf0;"></div>
<div id="t123" style="position:absolute;left:145.50px;top:435.61px;font-size:7.2px;line-height:7.2px;color:#e8607a;font-weight:400;white-space:nowrap;">0,00%</div>
<div style="position:absolute;left:50.80px;top:441.20px;width:11.80px;height:12.20px;border:0.8px solid #9494d4;box-sizing:border-box;border-radius:1.5px;box-shadow:0 0.6px 1px rgba(0,0,0,0.12);background:#fff;"></div>
<div style="position:absolute;left:66.70px;top:441.20px;width:11.80px;height:12.20px;border:0.8px solid #9494d4;box-sizing:border-box;border-radius:1.5px;box-shadow:0 0.6px 1px rgba(0,0,0,0.12);background:#fff;"></div>
<div style="position:absolute;left:82.60px;top:441.20px;width:11.80px;height:12.20px;border:0.8px solid #9494d4;box-sizing:border-box;border-radius:1.5px;box-shadow:0 0.6px 1px rgba(0,0,0,0.12);background:#fff;"></div>
<div style="position:absolute;left:98.50px;top:441.20px;width:11.80px;height:12.20px;border:0.8px solid #cfcfd4;box-sizing:border-box;border-radius:1.5px;box-shadow:0 0.6px 1px rgba(0,0,0,0.12);background:#fff;"></div>
<svg style="position:absolute;left:50.80px;top:441.30px;" width="12" height="12" viewBox="0 0 12 12"><path d="M3.4 3.6 H8.6 V4.7 H3.4 Z M5 3.6 V2.9 H7 V3.6" fill="#3a3a86" stroke="#3a3a86" stroke-width="0.5"/><path d="M3.9 5.2 H8.1 L7.8 9.2 H4.2 Z" fill="#5a5aa0" stroke="#2c2c78" stroke-width="0.6"/><path d="M4.8 6.4 H7.2 M4.8 7.8 H7.2" stroke="#c8c8e8" stroke-width="0.5"/></svg>
<svg style="position:absolute;left:66.70px;top:441.30px;" width="12" height="12" viewBox="0 0 12 12"><path d="M8.3 4.6 A2.9 2.9 0 1 0 8.6 7.6" fill="none" stroke="#2c2c78" stroke-width="1.0"/><circle cx="8.5" cy="4.0" r="0.95" fill="#2c2c78"/></svg>
<svg style="position:absolute;left:82.60px;top:441.30px;" width="12" height="12" viewBox="0 0 12 12"><path d="M8.4 4.8 A2.9 2.9 0 1 0 8.9 6.4" fill="none" stroke="#2c2c78" stroke-width="1.0"/><path d="M6 6.3 L8 4.4" stroke="#2c2c78" stroke-width="0.9"/><circle cx="8.5" cy="3.8" r="0.95" fill="#2c2c78"/></svg>
<svg style="position:absolute;left:98.50px;top:441.30px;" width="12" height="12" viewBox="0 0 12 12"><path d="M3.6 3.4 V8.8 M6 3.4 V8.8 M8.4 3.4 V8.8" stroke="#a0a0a8" stroke-width="0.7"/><path d="M2.9 5.2 H4.3 M5.3 7.2 H6.7 M7.7 4.8 H9.1" stroke="#8a8a92" stroke-width="1.2"/></svg>
<svg style="position:absolute;left:206.300px;top:410.500px" width="374.992" height="32.3" viewBox="0 0 374.992 32.3"><rect x="0" y="0" width="374.992" height="32.3" fill="#e3e2e4"/><rect x="0.000" y="0" width="8.152" height="32.3" fill="#d0e2f4"/><rect x="0.500" y="0.280" width="7.152" height="7.515" fill="#0d4c88"/><rect x="0.500" y="8.355" width="7.152" height="7.515" fill="#0d4c88"/><rect x="0.500" y="16.430" width="7.152" height="7.515" fill="#0d4c88"/><rect x="0.500" y="24.505" width="7.152" height="7.515" fill="#0d4c88"/><rect x="8.152" y="0" width="8.152" height="32.3" fill="#d0e2f4"/><rect x="8.652" y="0.280" width="7.152" height="7.515" fill="#0d4c88"/><rect x="8.652" y="8.355" width="7.152" height="7.515" fill="#0d4c88"/><rect x="8.652" y="16.430" width="7.152" height="7.515" fill="#0d4c88"/><rect x="8.652" y="24.505" width="7.152" height="7.515" fill="#0d4c88"/><rect x="32.608" y="0" width="8.152" height="32.3" fill="#d0e2f4"/><rect x="33.108" y="0.280" width="7.152" height="7.515" fill="#0d4c88"/><rect x="33.108" y="8.355" width="7.152" height="7.515" fill="#0d4c88"/><rect x="33.108" y="16.430" width="7.152" height="7.515" fill="#0d4c88"/><rect x="33.108" y="24.505" width="7.152" height="7.515" fill="#0d4c88"/><rect x="40.760" y="0" width="8.152" height="32.3" fill="#d0e2f4"/><rect x="41.260" y="0.280" width="7.152" height="7.515" fill="#0d4c88"/><rect x="41.260" y="8.355" width="7.152" height="7.515" fill="#0d4c88"/><rect x="41.260" y="16.430" width="7.152" height="7.515" fill="#0d4c88"/><rect x="41.260" y="24.505" width="7.152" height="7.515" fill="#0d4c88"/><rect x="48.912" y="0" width="8.152" height="32.3" fill="#d0e2f4"/><rect x="49.412" y="0.280" width="7.152" height="7.515" fill="#0d4c88"/><rect x="49.412" y="8.355" width="7.152" height="7.515" fill="#0d4c88"/><rect x="49.412" y="16.430" width="7.152" height="7.515" fill="#0d4c88"/><rect x="49.412" y="24.505" width="7.152" height="7.515" fill="#0d4c88"/><rect x="57.064" y="0" width="8.152" height="32.3" fill="#d0e2f4"/><rect x="57.564" y="0.280" width="7.152" height="7.515" fill="#0d4c88"/><rect x="57.564" y="8.355" width="7.152" height="7.515" fill="#0d4c88"/><rect x="57.564" y="16.430" width="7.152" height="7.515" fill="#0d4c88"/><rect x="57.564" y="24.505" width="7.152" height="7.515" fill="#0d4c88"/><rect x="65.216" y="0" width="8.152" height="32.3" fill="#d0e2f4"/><rect x="65.716" y="0.280" width="7.152" height="7.515" fill="#0d4c88"/><rect x="65.716" y="8.355" width="7.152" height="7.515" fill="#0d4c88"/><rect x="65.716" y="16.430" width="7.152" height="7.515" fill="#0d4c88"/><rect x="65.716" y="24.505" width="7.152" height="7.515" fill="#0d4c88"/><rect x="89.672" y="0" width="8.152" height="32.3" fill="#d0e2f4"/><rect x="90.172" y="0.280" width="7.152" height="7.515" fill="#0d4c88"/><rect x="90.172" y="8.355" width="7.152" height="7.515" fill="#0d4c88"/><rect x="90.172" y="16.430" width="7.152" height="7.515" fill="#0d4c88"/><rect x="90.172" y="24.505" width="7.152" height="7.515" fill="#0d4c88"/><rect x="97.824" y="0" width="8.152" height="32.3" fill="#d0e2f4"/><rect x="98.324" y="0.280" width="7.152" height="7.515" fill="#0d4c88"/><rect x="98.324" y="8.355" width="7.152" height="7.515" fill="#0d4c88"/><rect x="98.324" y="16.430" width="7.152" height="7.515" fill="#0d4c88"/><rect x="98.324" y="24.505" width="7.152" height="7.515" fill="#0d4c88"/><rect x="105.976" y="0" width="8.152" height="32.3" fill="#d0e2f4"/><rect x="106.476" y="0.280" width="7.152" height="7.515" fill="#0d4c88"/><rect x="106.476" y="8.355" width="7.152" height="7.515" fill="#0d4c88"/><rect x="106.476" y="16.430" width="7.152" height="7.515" fill="#0d4c88"/><rect x="106.476" y="24.505" width="7.152" height="7.515" fill="#0d4c88"/><rect x="114.128" y="0" width="8.152" height="32.3" fill="#d0e2f4"/><rect x="114.628" y="0.280" width="7.152" height="7.515" fill="#0d4c88"/><rect x="114.628" y="8.355" width="7.152" height="7.515" fill="#0d4c88"/><rect x="114.628" y="16.430" width="7.152" height="7.515" fill="#0d4c88"/><rect x="114.628" y="24.505" width="7.152" height="7.515" fill="#0d4c88"/><rect x="122.280" y="0" width="8.152" height="32.3" fill="#d0e2f4"/><rect x="122.780" y="0.280" width="7.152" height="7.515" fill="#0d4c88"/><rect x="122.780" y="8.355" width="7.152" height="7.515" fill="#0d4c88"/><rect x="122.780" y="16.430" width="7.152" height="7.515" fill="#0d4c88"/><rect x="122.780" y="24.505" width="7.152" height="7.515" fill="#0d4c88"/><rect x="146.736" y="0" width="8.152" height="32.3" fill="#d0e2f4"/><rect x="147.236" y="0.280" width="7.152" height="7.515" fill="#0d4c88"/><rect x="147.236" y="8.355" width="7.152" height="7.515" fill="#0d4c88"/><rect x="147.236" y="16.430" width="7.152" height="7.515" fill="#0d4c88"/><rect x="147.236" y="24.505" width="7.152" height="7.515" fill="#0d4c88"/><rect x="154.888" y="0" width="8.152" height="32.3" fill="#d0e2f4"/><rect x="155.388" y="0.280" width="7.152" height="7.515" fill="#0d4c88"/><rect x="155.388" y="8.355" width="7.152" height="7.515" fill="#0d4c88"/><rect x="155.388" y="16.430" width="7.152" height="7.515" fill="#0d4c88"/><rect x="155.388" y="24.505" width="7.152" height="7.515" fill="#0d4c88"/><rect x="163.040" y="0" width="8.152" height="32.3" fill="#d0e2f4"/><rect x="163.540" y="0.280" width="7.152" height="7.515" fill="#0d4c88"/><rect x="163.540" y="8.355" width="7.152" height="7.515" fill="#0d4c88"/><rect x="163.540" y="16.430" width="7.152" height="7.515" fill="#0d4c88"/><rect x="163.540" y="24.505" width="7.152" height="7.515" fill="#0d4c88"/><rect x="171.192" y="0" width="8.152" height="32.3" fill="#d0e2f4"/><rect x="171.692" y="0.280" width="7.152" height="7.515" fill="#0d4c88"/><rect x="171.692" y="8.355" width="7.152" height="7.515" fill="#0d4c88"/><rect x="171.692" y="16.430" width="7.152" height="7.515" fill="#0d4c88"/><rect x="171.692" y="24.505" width="7.152" height="7.515" fill="#0d4c88"/><rect x="179.344" y="0" width="8.152" height="32.3" fill="#d0e2f4"/><rect x="179.844" y="0.280" width="7.152" height="7.515" fill="#0d4c88"/><rect x="179.844" y="8.355" width="7.152" height="7.515" fill="#0d4c88"/><rect x="179.844" y="16.430" width="7.152" height="7.515" fill="#0d4c88"/><rect x="179.844" y="24.505" width="7.152" height="7.515" fill="#0d4c88"/><rect x="203.800" y="0" width="8.152" height="32.3" fill="#d0e2f4"/><rect x="204.300" y="0.280" width="7.152" height="7.515" fill="#0d4c88"/><rect x="204.300" y="8.355" width="7.152" height="7.515" fill="#0d4c88"/><rect x="204.300" y="16.430" width="7.152" height="7.515" fill="#0d4c88"/><rect x="204.300" y="24.505" width="7.152" height="7.515" fill="#0d4c88"/><rect x="211.952" y="0" width="8.152" height="32.3" fill="#d0e2f4"/><rect x="212.452" y="0.280" width="7.152" height="7.515" fill="#0d4c88"/><rect x="212.452" y="8.355" width="7.152" height="7.515" fill="#0d4c88"/><rect x="212.452" y="16.430" width="7.152" height="7.515" fill="#0d4c88"/><rect x="212.452" y="24.505" width="7.152" height="7.515" fill="#0d4c88"/><rect x="220.104" y="0" width="8.152" height="32.3" fill="#d0e2f4"/><rect x="220.604" y="0.280" width="7.152" height="7.515" fill="#0d4c88"/><rect x="220.604" y="8.355" width="7.152" height="7.515" fill="#0d4c88"/><rect x="220.604" y="16.430" width="7.152" height="7.515" fill="#0d4c88"/><rect x="220.604" y="24.505" width="7.152" height="7.515" fill="#0d4c88"/><rect x="228.256" y="0" width="8.152" height="32.3" fill="#d0e2f4"/><rect x="228.756" y="0.280" width="7.152" height="7.515" fill="#0d4c88"/><rect x="228.756" y="8.355" width="7.152" height="7.515" fill="#0d4c88"/><rect x="228.756" y="16.430" width="7.152" height="7.515" fill="#0d4c88"/><rect x="228.756" y="24.505" width="7.152" height="7.515" fill="#0d4c88"/><rect x="236.408" y="0" width="8.152" height="32.3" fill="#d0e2f4"/><rect x="236.908" y="0.280" width="7.152" height="7.515" fill="#0d4c88"/><rect x="236.908" y="8.355" width="7.152" height="7.515" fill="#0d4c88"/><rect x="236.908" y="16.430" width="7.152" height="7.515" fill="#0d4c88"/><rect x="236.908" y="24.505" width="7.152" height="7.515" fill="#0d4c88"/><rect x="260.864" y="0" width="8.152" height="32.3" fill="#d0e2f4"/><rect x="261.364" y="0.280" width="7.152" height="7.515" fill="#0d4c88"/><rect x="261.364" y="8.355" width="7.152" height="7.515" fill="#0d4c88"/><rect x="261.364" y="16.430" width="7.152" height="7.515" fill="#0d4c88"/><rect x="261.364" y="24.505" width="7.152" height="7.515" fill="#0d4c88"/><rect x="269.016" y="0" width="8.152" height="32.3" fill="#d0e2f4"/><rect x="269.516" y="0.280" width="7.152" height="7.515" fill="#0d4c88"/><rect x="269.516" y="8.355" width="7.152" height="7.515" fill="#0d4c88"/><rect x="269.516" y="16.430" width="7.152" height="7.515" fill="#0d4c88"/><rect x="269.516" y="24.505" width="7.152" height="7.515" fill="#0d4c88"/><rect x="277.168" y="0" width="8.152" height="32.3" fill="#d0e2f4"/><rect x="277.668" y="0.280" width="7.152" height="7.515" fill="#0d4c88"/><rect x="277.668" y="8.355" width="7.152" height="7.515" fill="#0d4c88"/><rect x="277.668" y="16.430" width="7.152" height="7.515" fill="#0d4c88"/><rect x="277.668" y="24.505" width="7.152" height="7.515" fill="#0d4c88"/><rect x="285.320" y="0" width="8.152" height="32.3" fill="#d0e2f4"/><rect x="285.820" y="0.280" width="7.152" height="7.515" fill="#0d4c88"/><rect x="285.820" y="8.355" width="7.152" height="7.515" fill="#0d4c88"/><rect x="285.820" y="16.430" width="7.152" height="7.515" fill="#0d4c88"/><rect x="285.820" y="24.505" width="7.152" height="7.515" fill="#0d4c88"/><rect x="293.472" y="0" width="8.152" height="32.3" fill="#d0e2f4"/><rect x="293.972" y="0.280" width="7.152" height="7.515" fill="#0d4c88"/><rect x="293.972" y="8.355" width="7.152" height="7.515" fill="#0d4c88"/><rect x="293.972" y="16.430" width="7.152" height="7.515" fill="#0d4c88"/><rect x="293.972" y="24.505" width="7.152" height="7.515" fill="#0d4c88"/><rect x="317.928" y="0" width="8.152" height="32.3" fill="#d0e2f4"/><rect x="318.428" y="0.280" width="7.152" height="7.515" fill="#0d4c88"/><rect x="318.428" y="8.355" width="7.152" height="7.515" fill="#0d4c88"/><rect x="318.428" y="16.430" width="7.152" height="7.515" fill="#0d4c88"/><rect x="318.428" y="24.505" width="7.152" height="7.515" fill="#0d4c88"/><rect x="326.080" y="0" width="8.152" height="32.3" fill="#d0e2f4"/><rect x="326.580" y="0.280" width="7.152" height="7.515" fill="#0d4c88"/><rect x="326.580" y="8.355" width="7.152" height="7.515" fill="#0d4c88"/><rect x="326.580" y="16.430" width="7.152" height="7.515" fill="#0d4c88"/><rect x="326.580" y="24.505" width="7.152" height="7.515" fill="#0d4c88"/><rect x="334.232" y="0" width="8.152" height="32.3" fill="#d0e2f4"/><rect x="334.732" y="0.280" width="7.152" height="7.515" fill="#0d4c88"/><rect x="334.732" y="8.355" width="7.152" height="7.515" fill="#0d4c88"/><rect x="334.732" y="16.430" width="7.152" height="7.515" fill="#0d4c88"/><rect x="334.732" y="24.505" width="7.152" height="7.515" fill="#0d4c88"/><rect x="342.384" y="0" width="8.152" height="32.3" fill="#d0e2f4"/><rect x="342.884" y="0.280" width="7.152" height="7.515" fill="#0d4c88"/><rect x="342.884" y="8.355" width="7.152" height="7.515" fill="#0d4c88"/><rect x="342.884" y="16.430" width="7.152" height="7.515" fill="#0d4c88"/><rect x="342.884" y="24.505" width="7.152" height="7.515" fill="#0d4c88"/><rect x="350.536" y="0" width="8.152" height="32.3" fill="#d0e2f4"/><rect x="351.036" y="0.280" width="7.152" height="7.515" fill="#0d4c88"/><rect x="351.036" y="8.355" width="7.152" height="7.515" fill="#0d4c88"/><rect x="351.036" y="16.430" width="7.152" height="7.515" fill="#0d4c88"/><rect x="351.036" y="24.505" width="7.152" height="7.515" fill="#0d4c88"/></svg>
<div style="position:absolute;left:206.30px;top:177.40px;width:177.50px;height:10.30px;background:#fff;border:0.8px solid #c6c8d4;box-sizing:border-box;border-radius:2px;"></div>
<svg style="position:absolute;left:211.10px;top:179.30px;" width="6.5" height="6.5" viewBox="0 0 6.5 6.5"><circle cx="3.25" cy="3.25" r="2.5" fill="none" stroke="#1e3f78" stroke-width="1.3"/></svg>
<div id="t124" style="position:absolute;left:219.60px;top:179.85px;font-size:6.2px;line-height:6.2px;color:#50505a;font-weight:400;white-space:nowrap;transform:scaleX(0.8388);transform-origin:0 0;"><b style="color:#1e3f78">32</b> <span style="color:#888">:</span> Prestation de Stéphane pour GZDF / Assistance technique 2</div>
<svg style="position:absolute;left:371.80px;top:180.20px;" width="8" height="4.5" viewBox="0 0 8 4.5"><ellipse cx="4" cy="2.25" rx="3.6" ry="2" fill="#9c9ca4"/><ellipse cx="4" cy="2.25" rx="1.2" ry="1.2" fill="#c8c8cc"/></svg>
<div style="position:absolute;left:384.10px;top:179.90px;width:5.20px;height:4.80px;background:#0e4c84;border-radius:0.6px;"></div>
<svg style="position:absolute;left:384.10px;top:179.90px;" width="5.2" height="4.8" viewBox="0 0 5.2 4.8"><rect x="1.6" y="1.5" width="2" height="1.8" fill="#fff"/></svg>
<div style="position:absolute;left:206.30px;top:227.10px;width:186.50px;height:10.30px;background:#fff;border:0.8px solid #c6c8d4;box-sizing:border-box;border-radius:2px;"></div>
<svg style="position:absolute;left:211.10px;top:229.00px;" width="6.5" height="6.5" viewBox="0 0 6.5 6.5"><circle cx="3.25" cy="3.25" r="2.5" fill="none" stroke="#1e3f78" stroke-width="1.3"/></svg>
<div id="t125" style="position:absolute;left:219.60px;top:229.55px;font-size:6.2px;line-height:6.2px;color:#50505a;font-weight:400;white-space:nowrap;transform:scaleX(0.8361);transform-origin:0 0;"><b style="color:#1e3f78">32</b> <span style="color:#888">:</span> Prestation de Mathilde pour SUNMOBILE / Assistance technique</div>
<svg style="position:absolute;left:380.80px;top:229.90px;" width="8" height="4.5" viewBox="0 0 8 4.5"><ellipse cx="4" cy="2.25" rx="3.6" ry="2" fill="#9c9ca4"/><ellipse cx="4" cy="2.25" rx="1.2" ry="1.2" fill="#c8c8cc"/></svg>
<div style="position:absolute;left:393.10px;top:229.60px;width:5.20px;height:4.80px;background:#0e4c84;border-radius:0.6px;"></div>
<svg style="position:absolute;left:393.10px;top:229.60px;" width="5.2" height="4.8" viewBox="0 0 5.2 4.8"><rect x="1.6" y="1.5" width="2" height="1.8" fill="#fff"/></svg>
<div style="position:absolute;left:206.30px;top:274.90px;width:157.50px;height:10.30px;background:#f4fbfe;border:0.8px solid #a6dcee;box-sizing:border-box;border-radius:2px;"></div>
<svg style="position:absolute;left:211.10px;top:276.80px;" width="6.5" height="6.5" viewBox="0 0 6.5 6.5"><circle cx="3.25" cy="3.25" r="2.5" fill="none" stroke="#40bedc" stroke-width="1.3"/></svg>
<div id="t126" style="position:absolute;left:219.60px;top:277.35px;font-size:6.2px;line-height:6.2px;color:#50505a;font-weight:400;white-space:nowrap;transform:scaleX(0.8515);transform-origin:0 0;"><b style="color:#40bedc">11</b> <span style="color:#888">:</span> Modernisation des méthodologies / Implémentation</div>
<svg style="position:absolute;left:351.80px;top:277.70px;" width="8" height="4.5" viewBox="0 0 8 4.5"><ellipse cx="4" cy="2.25" rx="3.6" ry="2" fill="#9c9ca4"/><ellipse cx="4" cy="2.25" rx="1.2" ry="1.2" fill="#c8c8cc"/></svg>
<div style="position:absolute;left:364.10px;top:277.40px;width:5.20px;height:4.80px;background:#40bedc;border-radius:0.6px;"></div>
<svg style="position:absolute;left:364.10px;top:277.40px;" width="5.2" height="4.8" viewBox="0 0 5.2 4.8"><rect x="1.6" y="1.5" width="2" height="1.8" fill="#fff"/></svg>
<div style="position:absolute;left:377.50px;top:274.90px;width:151.00px;height:10.30px;background:#f4fbfe;border:0.8px solid #a6dcee;box-sizing:border-box;border-radius:2px;"></div>
<svg style="position:absolute;left:382.30px;top:276.80px;" width="6.5" height="6.5" viewBox="0 0 6.5 6.5"><circle cx="3.25" cy="3.25" r="2.5" fill="none" stroke="#40bedc" stroke-width="1.3"/></svg>
<div id="t127" style="position:absolute;left:390.80px;top:277.35px;font-size:6.2px;line-height:6.2px;color:#50505a;font-weight:400;white-space:nowrap;transform:scaleX(0.8255);transform-origin:0 0;"><b style="color:#40bedc">2</b> <span style="color:#888">:</span> Modernisation des méthodologies / Implémentation</div>
<svg style="position:absolute;left:516.50px;top:277.70px;" width="8" height="4.5" viewBox="0 0 8 4.5"><ellipse cx="4" cy="2.25" rx="3.6" ry="2" fill="#9c9ca4"/><ellipse cx="4" cy="2.25" rx="1.2" ry="1.2" fill="#c8c8cc"/></svg>
<div style="position:absolute;left:528.80px;top:277.40px;width:5.20px;height:4.80px;background:#40bedc;border-radius:0.6px;"></div>
<svg style="position:absolute;left:528.80px;top:277.40px;" width="5.2" height="4.8" viewBox="0 0 5.2 4.8"><rect x="1.6" y="1.5" width="2" height="1.8" fill="#fff"/></svg>
<div style="position:absolute;left:539.40px;top:274.90px;width:63.80px;height:10.30px;background:#fdfde6;border:0.8px solid #e2e69a;box-sizing:border-box;border-radius:2px;"></div>
<svg style="position:absolute;left:544.20px;top:276.80px;" width="6.5" height="6.5" viewBox="0 0 6.5 6.5"><circle cx="3.25" cy="3.25" r="2.5" fill="none" stroke="#d0d820" stroke-width="1.3"/></svg>
<div id="t128" style="position:absolute;left:552.70px;top:277.35px;font-size:6.2px;line-height:6.2px;color:#50505a;font-weight:400;white-space:nowrap;transform:scaleX(0.7930);transform-origin:0 0;"><b style="color:#c8cc40">3</b> <span style="color:#888">:</span> Management</div>
<svg style="position:absolute;left:591.20px;top:277.70px;" width="8" height="4.5" viewBox="0 0 8 4.5"><ellipse cx="4" cy="2.25" rx="3.6" ry="2" fill="#9c9ca4"/><ellipse cx="4" cy="2.25" rx="1.2" ry="1.2" fill="#c8c8cc"/></svg>
<div style="position:absolute;left:603.50px;top:277.40px;width:5.20px;height:4.80px;background:#d6de12;border-radius:0.6px;"></div>
<svg style="position:absolute;left:603.50px;top:277.40px;" width="5.2" height="4.8" viewBox="0 0 5.2 4.8"><rect x="1.6" y="1.5" width="2" height="1.8" fill="#fff"/></svg>
<div style="position:absolute;left:206.30px;top:286.40px;width:220.80px;height:10.30px;background:#fff;border:0.8px solid #c6c8d4;box-sizing:border-box;border-radius:2px;"></div>
<svg style="position:absolute;left:211.10px;top:288.30px;" width="6.5" height="6.5" viewBox="0 0 6.5 6.5"><circle cx="3.25" cy="3.25" r="2.5" fill="none" stroke="#1e3f78" stroke-width="1.3"/></svg>
<div id="t129" style="position:absolute;left:219.60px;top:288.85px;font-size:6.2px;line-height:6.2px;color:#50505a;font-weight:400;white-space:nowrap;transform:scaleX(0.8414);transform-origin:0 0;"><b style="color:#1e3f78">16</b> <span style="color:#888">:</span> Consulting sur la mise en ouvre d'un Modern Workplace / Assistance technique</div>
<svg style="position:absolute;left:415.10px;top:289.20px;" width="8" height="4.5" viewBox="0 0 8 4.5"><ellipse cx="4" cy="2.25" rx="3.6" ry="2" fill="#9c9ca4"/><ellipse cx="4" cy="2.25" rx="1.2" ry="1.2" fill="#c8c8cc"/></svg>
<div style="position:absolute;left:427.40px;top:288.90px;width:5.20px;height:4.80px;background:#0e4c84;border-radius:0.6px;"></div>
<svg style="position:absolute;left:427.40px;top:288.90px;" width="5.2" height="4.8" viewBox="0 0 5.2 4.8"><rect x="1.6" y="1.5" width="2" height="1.8" fill="#fff"/></svg>
<div style="position:absolute;left:206.30px;top:335.70px;width:63.00px;height:10.30px;background:#fdfde6;border:0.8px solid #e2e69a;box-sizing:border-box;border-radius:2px;"></div>
<svg style="position:absolute;left:211.10px;top:337.60px;" width="6.5" height="6.5" viewBox="0 0 6.5 6.5"><circle cx="3.25" cy="3.25" r="2.5" fill="none" stroke="#d0d820" stroke-width="1.3"/></svg>
<div id="t130" style="position:absolute;left:219.60px;top:338.15px;font-size:6.2px;line-height:6.2px;color:#50505a;font-weight:400;white-space:nowrap;transform:scaleX(0.8418);transform-origin:0 0;"><b style="color:#c8cc40">2</b> <span style="color:#888">:</span> Avant-vente</div>
<svg style="position:absolute;left:257.30px;top:338.50px;" width="8" height="4.5" viewBox="0 0 8 4.5"><ellipse cx="4" cy="2.25" rx="3.6" ry="2" fill="#9c9ca4"/><ellipse cx="4" cy="2.25" rx="1.2" ry="1.2" fill="#c8c8cc"/></svg>
<div style="position:absolute;left:269.60px;top:338.20px;width:5.20px;height:4.80px;background:#d6de12;border-radius:0.6px;"></div>
<svg style="position:absolute;left:269.60px;top:338.20px;" width="5.2" height="4.8" viewBox="0 0 5.2 4.8"><rect x="1.6" y="1.5" width="2" height="1.8" fill="#fff"/></svg>
<div style="position:absolute;left:281.00px;top:335.70px;width:139.50px;height:10.30px;background:#f4fbfe;border:0.8px solid #a6dcee;box-sizing:border-box;border-radius:2px;"></div>
<svg style="position:absolute;left:285.80px;top:337.60px;" width="6.5" height="6.5" viewBox="0 0 6.5 6.5"><circle cx="3.25" cy="3.25" r="2.5" fill="none" stroke="#40bedc" stroke-width="1.3"/></svg>
<div id="t131" style="position:absolute;left:294.30px;top:338.15px;font-size:6.2px;line-height:6.2px;color:#50505a;font-weight:400;white-space:nowrap;transform:scaleX(0.8550);transform-origin:0 0;"><b style="color:#40bedc">15</b> <span style="color:#888">:</span> Modernisation des méthodologies / Ateliers</div>
<svg style="position:absolute;left:408.50px;top:338.50px;" width="8" height="4.5" viewBox="0 0 8 4.5"><ellipse cx="4" cy="2.25" rx="3.6" ry="2" fill="#9c9ca4"/><ellipse cx="4" cy="2.25" rx="1.2" ry="1.2" fill="#c8c8cc"/></svg>
<div style="position:absolute;left:420.80px;top:338.20px;width:5.20px;height:4.80px;background:#40bedc;border-radius:0.6px;"></div>
<svg style="position:absolute;left:420.80px;top:338.20px;" width="5.2" height="4.8" viewBox="0 0 5.2 4.8"><rect x="1.6" y="1.5" width="2" height="1.8" fill="#fff"/></svg>
<div style="position:absolute;left:431.70px;top:335.70px;width:152.50px;height:10.30px;background:#f4fbfe;border:0.8px solid #a6dcee;box-sizing:border-box;border-radius:2px;"></div>
<svg style="position:absolute;left:436.50px;top:337.60px;" width="6.5" height="6.5" viewBox="0 0 6.5 6.5"><circle cx="3.25" cy="3.25" r="2.5" fill="none" stroke="#40bedc" stroke-width="1.3"/></svg>
<div id="t132" style="position:absolute;left:445.00px;top:338.15px;font-size:6.2px;line-height:6.2px;color:#50505a;font-weight:400;white-space:nowrap;transform:scaleX(0.8356);transform-origin:0 0;"><b style="color:#40bedc">2</b> <span style="color:#888">:</span> Modernisation des méthodologies / Implémentation</div>
<svg style="position:absolute;left:572.20px;top:338.50px;" width="8" height="4.5" viewBox="0 0 8 4.5"><ellipse cx="4" cy="2.25" rx="3.6" ry="2" fill="#9c9ca4"/><ellipse cx="4" cy="2.25" rx="1.2" ry="1.2" fill="#c8c8cc"/></svg>
<div style="position:absolute;left:584.50px;top:338.20px;width:5.20px;height:4.80px;background:#40bedc;border-radius:0.6px;"></div>
<svg style="position:absolute;left:584.50px;top:338.20px;" width="5.2" height="4.8" viewBox="0 0 5.2 4.8"><rect x="1.6" y="1.5" width="2" height="1.8" fill="#fff"/></svg>
<div style="position:absolute;left:596.00px;top:335.70px;width:128.50px;height:10.30px;background:#f4fbfe;border:0.8px solid #a6dcee;box-sizing:border-box;border-radius:2px;"></div>
<svg style="position:absolute;left:600.80px;top:337.60px;" width="6.5" height="6.5" viewBox="0 0 6.5 6.5"><circle cx="3.25" cy="3.25" r="2.5" fill="none" stroke="#40bedc" stroke-width="1.3"/></svg>
<div id="t133" style="position:absolute;left:609.30px;top:338.15px;font-size:6.2px;line-height:6.2px;color:#50505a;font-weight:400;white-space:nowrap;transform:scaleX(0.8367);transform-origin:0 0;"><b style="color:#40bedc">1</b> <span style="color:#888">:</span> Modernisation des méthodologies / Suivi</div>
<svg style="position:absolute;left:712.50px;top:338.50px;" width="8" height="4.5" viewBox="0 0 8 4.5"><ellipse cx="4" cy="2.25" rx="3.6" ry="2" fill="#9c9ca4"/><ellipse cx="4" cy="2.25" rx="1.2" ry="1.2" fill="#c8c8cc"/></svg>
<div style="position:absolute;left:724.80px;top:338.20px;width:5.20px;height:4.80px;background:#40bedc;border-radius:0.6px;"></div>
<svg style="position:absolute;left:724.80px;top:338.20px;" width="5.2" height="4.8" viewBox="0 0 5.2 4.8"><rect x="1.6" y="1.5" width="2" height="1.8" fill="#fff"/></svg>
<div style="position:absolute;left:206.30px;top:347.40px;width:67.50px;height:10.30px;background:#fff;border:0.8px solid #c0b8e4;box-sizing:border-box;border-radius:2px;"></div>
<svg style="position:absolute;left:211.10px;top:349.30px;" width="6.5" height="6.5" viewBox="0 0 6.5 6.5"><circle cx="3.25" cy="3.25" r="2.5" fill="none" stroke="#6a5ac0" stroke-width="1.3"/></svg>
<div id="t134" style="position:absolute;left:219.60px;top:349.85px;font-size:6.2px;line-height:6.2px;color:#50505a;font-weight:400;white-space:nowrap;transform:scaleX(0.8132);transform-origin:0 0;"><b style="color:#6a5ac0">1</b> <span style="color:#888">:</span> Congés payés</div>
<svg style="position:absolute;left:261.80px;top:350.20px;" width="8" height="4.5" viewBox="0 0 8 4.5"><ellipse cx="4" cy="2.25" rx="3.6" ry="2" fill="#9c9ca4"/><ellipse cx="4" cy="2.25" rx="1.2" ry="1.2" fill="#c8c8cc"/></svg>
<div style="position:absolute;left:285.00px;top:347.40px;width:107.50px;height:10.30px;background:#fff;border:0.8px solid #f0b4c2;box-sizing:border-box;border-radius:2px;"></div>
<svg style="position:absolute;left:289.80px;top:349.30px;" width="6.5" height="6.5" viewBox="0 0 6.5 6.5"><circle cx="3.25" cy="3.25" r="2.5" fill="none" stroke="#e8607a" stroke-width="1.3"/></svg>
<div id="t135" style="position:absolute;left:298.30px;top:349.85px;font-size:6.2px;line-height:6.2px;color:#50505a;font-weight:400;white-space:nowrap;transform:scaleX(0.8277);transform-origin:0 0;"><b style="color:#e8607a">2</b> <span style="color:#888">:</span> Congés en attente de validation</div>
<svg style="position:absolute;left:380.50px;top:350.20px;" width="8" height="4.5" viewBox="0 0 8 4.5"><ellipse cx="4" cy="2.25" rx="3.6" ry="2" fill="#9c9ca4"/><ellipse cx="4" cy="2.25" rx="1.2" ry="1.2" fill="#c8c8cc"/></svg>
<div style="position:absolute;left:206.80px;top:395.90px;width:65.50px;height:10.30px;background:#fff;border:0.8px solid #e0e2e8;box-sizing:border-box;border-radius:2px;"></div>
<svg style="position:absolute;left:211.60px;top:397.80px;" width="6.5" height="6.5" viewBox="0 0 6.5 6.5"><circle cx="3.25" cy="3.25" r="2.5" fill="none" stroke="#b0b0b8" stroke-width="1.3"/></svg>
<div id="t136" style="position:absolute;left:220.10px;top:398.35px;font-size:6.2px;line-height:6.2px;color:#50505a;font-weight:400;white-space:nowrap;transform:scaleX(0.8207);transform-origin:0 0;"><b style="color:#a0a0a8">7</b> <span style="color:#888">:</span> Temps partiel</div>
<svg style="position:absolute;left:260.30px;top:398.70px;" width="8" height="4.5" viewBox="0 0 8 4.5"><ellipse cx="4" cy="2.25" rx="3.6" ry="2" fill="#9c9ca4"/><ellipse cx="4" cy="2.25" rx="1.2" ry="1.2" fill="#c8c8cc"/></svg>
<div style="position:absolute;left:765.00px;top:112.00px;width:8.70px;height:333.00px;background:#fff;"></div>
<div style="position:absolute;left:765.40px;top:111.70px;width:8.20px;height:213.30px;background:#9282b8;"></div>
<div style="position:absolute;left:773.70px;top:112.00px;width:5.50px;height:333.00px;background:#eceef4;"></div>
<div style="position:absolute;left:0.00px;top:0.00px;width:800.00px;height:17.00px;background:#000;"></div>
<div style="position:absolute;left:0.00px;top:444.60px;width:800.00px;height:18.40px;background:#000;"></div>
<div style="position:absolute;left:0.00px;top:0.00px;width:18.00px;height:463.00px;background:#000;"></div>
<div style="position:absolute;left:780.00px;top:0.00px;width:20.00px;height:463.00px;background:#000;"></div>
</div>
</body></html>
